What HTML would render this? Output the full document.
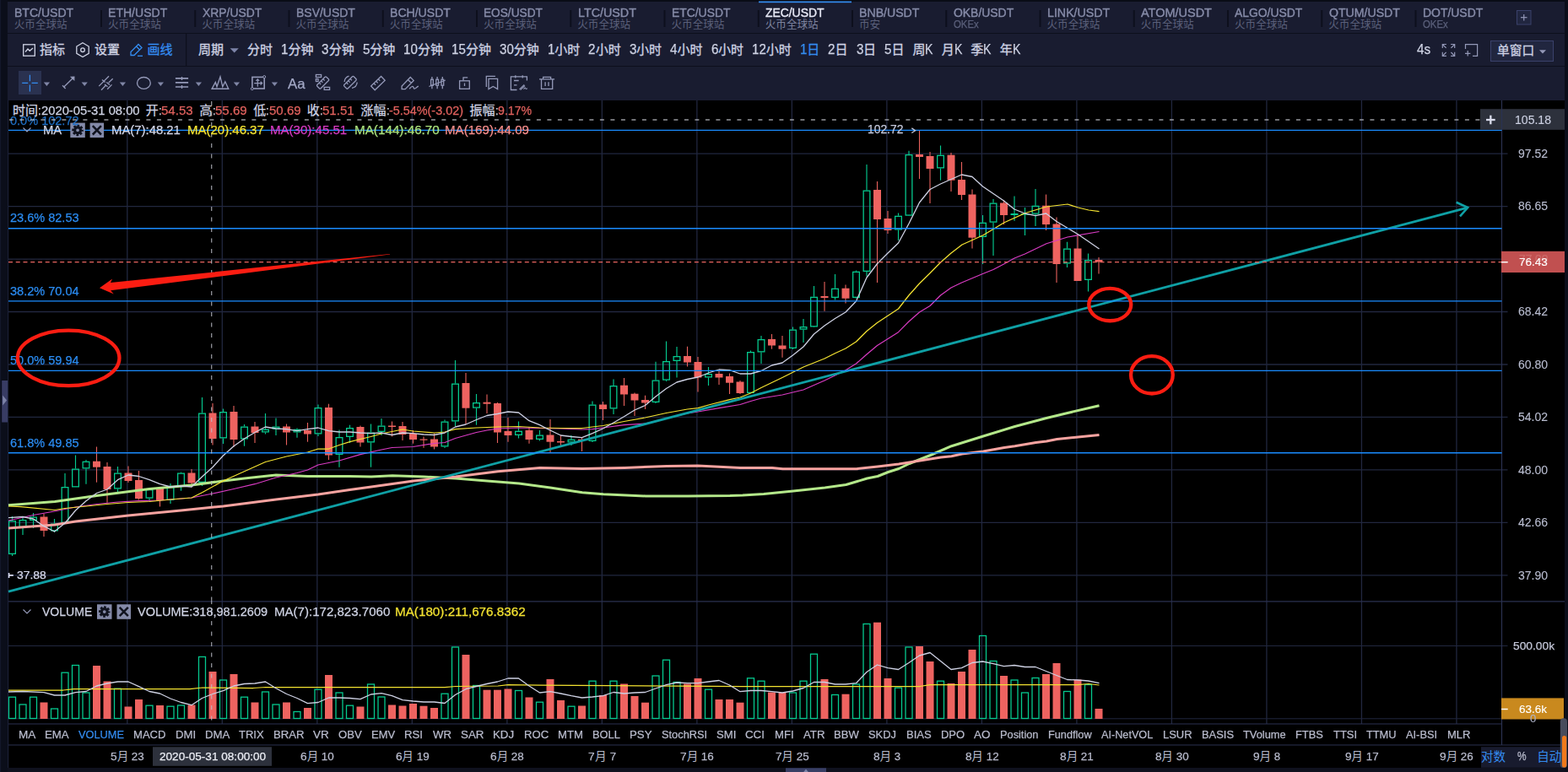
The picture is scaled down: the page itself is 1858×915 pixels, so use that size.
<!DOCTYPE html>
<html lang="zh"><head><meta charset="utf-8"><title>ZEC/USDT</title>
<style>
html,body{margin:0;padding:0;background:#191c30;}
body{width:1858px;height:915px;overflow:hidden;position:relative;font-family:"Liberation Sans",sans-serif;}
#g,#g2{position:absolute;left:0;top:0;}
#g text{font-family:"Liberation Sans","Noto Sans CJK SC",sans-serif;}
#tx{position:absolute;left:0;top:0;width:1858px;height:915px;will-change:transform;}
.t{position:absolute;white-space:pre;line-height:1;transform-origin:0 50%;font-family:"Liberation Sans",sans-serif;}
</style></head><body>
<svg id="g" width="1858" height="915" viewBox="0 0 1858 915" >
<rect x="0.00" y="0.00" width="1858.00" height="915.00" fill="#191c30" />
<rect x="0.00" y="0.00" width="1858.00" height="2.00" fill="#090c16" />
<rect x="0.00" y="0.00" width="9.00" height="915.00" fill="#0b0e1a" />
<rect x="0.00" y="0.00" width="1.10" height="915.00" fill="#13172a" />
<rect x="1854.00" y="0.00" width="4.00" height="915.00" fill="#0b0e1a" />
<rect x="9.00" y="39.00" width="1845.00" height="1.00" fill="#0d0f1c" />
<rect x="9.00" y="78.00" width="1845.00" height="1.00" fill="#0d0f1c" />
<rect x="10.00" y="119.00" width="1844.00" height="791.00" fill="#000" />
<line x1="150.80" y1="119.00" x2="150.80" y2="858.00" stroke="#21273f" stroke-width="1.3" />
<line x1="263.31" y1="119.00" x2="263.31" y2="858.00" stroke="#21273f" stroke-width="1.3" />
<line x1="375.82" y1="119.00" x2="375.82" y2="858.00" stroke="#21273f" stroke-width="1.3" />
<line x1="488.33" y1="119.00" x2="488.33" y2="858.00" stroke="#21273f" stroke-width="1.3" />
<line x1="600.84" y1="119.00" x2="600.84" y2="858.00" stroke="#21273f" stroke-width="1.3" />
<line x1="713.35" y1="119.00" x2="713.35" y2="858.00" stroke="#21273f" stroke-width="1.3" />
<line x1="825.86" y1="119.00" x2="825.86" y2="858.00" stroke="#21273f" stroke-width="1.3" />
<line x1="938.37" y1="119.00" x2="938.37" y2="858.00" stroke="#21273f" stroke-width="1.3" />
<line x1="1050.88" y1="119.00" x2="1050.88" y2="858.00" stroke="#21273f" stroke-width="1.3" />
<line x1="1163.39" y1="119.00" x2="1163.39" y2="858.00" stroke="#21273f" stroke-width="1.3" />
<line x1="1275.90" y1="119.00" x2="1275.90" y2="858.00" stroke="#21273f" stroke-width="1.3" />
<line x1="1388.41" y1="119.00" x2="1388.41" y2="858.00" stroke="#21273f" stroke-width="1.3" />
<line x1="1500.92" y1="119.00" x2="1500.92" y2="858.00" stroke="#21273f" stroke-width="1.3" />
<line x1="1613.43" y1="119.00" x2="1613.43" y2="858.00" stroke="#21273f" stroke-width="1.3" />
<line x1="1725.94" y1="119.00" x2="1725.94" y2="858.00" stroke="#21273f" stroke-width="1.3" />
<line x1="10.00" y1="182.10" x2="1786.50" y2="182.10" stroke="#21273f" stroke-width="1.3" />
<line x1="10.00" y1="244.57" x2="1786.50" y2="244.57" stroke="#21273f" stroke-width="1.3" />
<line x1="10.00" y1="307.04" x2="1786.50" y2="307.04" stroke="#21273f" stroke-width="1.3" />
<line x1="10.00" y1="369.51" x2="1786.50" y2="369.51" stroke="#21273f" stroke-width="1.3" />
<line x1="10.00" y1="431.98" x2="1786.50" y2="431.98" stroke="#21273f" stroke-width="1.3" />
<line x1="10.00" y1="494.45" x2="1786.50" y2="494.45" stroke="#21273f" stroke-width="1.3" />
<line x1="10.00" y1="556.92" x2="1786.50" y2="556.92" stroke="#21273f" stroke-width="1.3" />
<line x1="10.00" y1="619.39" x2="1786.50" y2="619.39" stroke="#21273f" stroke-width="1.3" />
<line x1="10.00" y1="681.86" x2="1786.50" y2="681.86" stroke="#21273f" stroke-width="1.3" />
<line x1="10.00" y1="765.50" x2="1786.50" y2="765.50" stroke="#21273f" stroke-width="1.2" />
<line x1="10.00" y1="851.80" x2="1779.50" y2="851.80" stroke="#21273f" stroke-width="1" />
<line x1="10.00" y1="712.80" x2="1854.00" y2="712.80" stroke="#2a3150" stroke-width="1.2" />
<line x1="10.00" y1="858.00" x2="1779.50" y2="858.00" stroke="#2a3150" stroke-width="1.2" />
<line x1="10.00" y1="883.00" x2="1854.00" y2="883.00" stroke="#2a3150" stroke-width="1.2" />
<line x1="1779.50" y1="119.00" x2="1779.50" y2="883.00" stroke="#2a3150" stroke-width="1.2" />
<line x1="9.70" y1="119.00" x2="9.70" y2="910.00" stroke="#1c2038" stroke-width="1" />
<line x1="14.50" y1="612.00" x2="14.50" y2="617.00" stroke="#05c98e" stroke-width="1.15" />
<line x1="14.50" y1="657.00" x2="14.50" y2="659.00" stroke="#05c98e" stroke-width="1.15" />
<rect x="10.65" y="617.65" width="7.7" height="38.70" fill="none" stroke="#05c98e" stroke-width="1.3"/>
<line x1="27.00" y1="612.50" x2="27.00" y2="616.00" stroke="#05c98e" stroke-width="1.15" />
<line x1="27.00" y1="625.00" x2="27.00" y2="634.00" stroke="#05c98e" stroke-width="1.15" />
<rect x="23.15" y="616.65" width="7.7" height="7.70" fill="none" stroke="#05c98e" stroke-width="1.3"/>
<line x1="39.50" y1="608.00" x2="39.50" y2="612.50" stroke="#05c98e" stroke-width="1.15" />
<line x1="39.50" y1="617.00" x2="39.50" y2="626.00" stroke="#05c98e" stroke-width="1.15" />
<rect x="35.65" y="613.15" width="7.7" height="3.20" fill="none" stroke="#05c98e" stroke-width="1.3"/>
<line x1="52.00" y1="609.00" x2="52.00" y2="636.00" stroke="#e9615d" stroke-width="1.1" />
<rect x="47.50" y="612.50" width="9.00" height="16.50" fill="#ee6360" />
<line x1="64.50" y1="615.00" x2="64.50" y2="620.50" stroke="#05c98e" stroke-width="1.15" />
<line x1="64.50" y1="629.50" x2="64.50" y2="631.00" stroke="#05c98e" stroke-width="1.15" />
<rect x="60.65" y="621.15" width="7.7" height="7.70" fill="none" stroke="#05c98e" stroke-width="1.3"/>
<line x1="77.00" y1="561.00" x2="77.00" y2="577.00" stroke="#05c98e" stroke-width="1.15" />
<rect x="73.15" y="577.65" width="7.7" height="41.70" fill="none" stroke="#05c98e" stroke-width="1.3"/>
<line x1="89.50" y1="539.50" x2="89.50" y2="555.50" stroke="#05c98e" stroke-width="1.15" />
<rect x="85.65" y="556.15" width="7.7" height="20.70" fill="none" stroke="#05c98e" stroke-width="1.3"/>
<line x1="102.00" y1="545.00" x2="102.00" y2="546.70" stroke="#05c98e" stroke-width="1.15" />
<line x1="102.00" y1="555.50" x2="102.00" y2="573.70" stroke="#05c98e" stroke-width="1.15" />
<rect x="98.15" y="547.35" width="7.7" height="7.50" fill="none" stroke="#05c98e" stroke-width="1.3"/>
<line x1="114.50" y1="529.50" x2="114.50" y2="571.70" stroke="#e9615d" stroke-width="1.1" />
<rect x="110.00" y="546.70" width="9.00" height="7.00" fill="#ee6360" />
<line x1="127.00" y1="548.00" x2="127.00" y2="596.00" stroke="#e9615d" stroke-width="1.1" />
<rect x="122.50" y="553.00" width="9.00" height="27.00" fill="#ee6360" />
<line x1="139.50" y1="553.00" x2="139.50" y2="560.50" stroke="#05c98e" stroke-width="1.15" />
<line x1="139.50" y1="579.50" x2="139.50" y2="583.00" stroke="#05c98e" stroke-width="1.15" />
<rect x="135.65" y="561.15" width="7.7" height="17.70" fill="none" stroke="#05c98e" stroke-width="1.3"/>
<line x1="152.00" y1="552.50" x2="152.00" y2="572.00" stroke="#e9615d" stroke-width="1.1" />
<rect x="147.50" y="560.50" width="9.00" height="9.50" fill="#ee6360" />
<line x1="164.50" y1="558.00" x2="164.50" y2="592.50" stroke="#e9615d" stroke-width="1.1" />
<rect x="160.00" y="569.00" width="9.00" height="22.00" fill="#ee6360" />
<line x1="177.00" y1="579.00" x2="177.00" y2="580.00" stroke="#05c98e" stroke-width="1.15" />
<line x1="177.00" y1="590.70" x2="177.00" y2="593.00" stroke="#05c98e" stroke-width="1.15" />
<rect x="173.15" y="580.65" width="7.7" height="9.40" fill="none" stroke="#05c98e" stroke-width="1.3"/>
<line x1="189.50" y1="579.00" x2="189.50" y2="600.50" stroke="#e9615d" stroke-width="1.1" />
<rect x="185.00" y="579.00" width="9.00" height="14.00" fill="#ee6360" />
<line x1="202.00" y1="573.00" x2="202.00" y2="577.00" stroke="#05c98e" stroke-width="1.15" />
<line x1="202.00" y1="593.00" x2="202.00" y2="597.00" stroke="#05c98e" stroke-width="1.15" />
<rect x="198.15" y="577.65" width="7.7" height="14.70" fill="none" stroke="#05c98e" stroke-width="1.3"/>
<line x1="214.50" y1="559.50" x2="214.50" y2="560.50" stroke="#05c98e" stroke-width="1.15" />
<line x1="214.50" y1="577.00" x2="214.50" y2="581.70" stroke="#05c98e" stroke-width="1.15" />
<rect x="210.65" y="561.15" width="7.7" height="15.20" fill="none" stroke="#05c98e" stroke-width="1.3"/>
<line x1="227.00" y1="556.00" x2="227.00" y2="577.50" stroke="#e9615d" stroke-width="1.1" />
<rect x="222.50" y="560.50" width="9.00" height="12.00" fill="#ee6360" />
<line x1="239.50" y1="471.00" x2="239.50" y2="489.50" stroke="#05c98e" stroke-width="1.15" />
<line x1="239.50" y1="572.00" x2="239.50" y2="576.00" stroke="#05c98e" stroke-width="1.15" />
<rect x="235.65" y="490.15" width="7.7" height="81.20" fill="none" stroke="#05c98e" stroke-width="1.3"/>
<line x1="252.00" y1="478.00" x2="252.00" y2="527.50" stroke="#e9615d" stroke-width="1.1" />
<rect x="247.50" y="489.50" width="9.00" height="30.50" fill="#ee6360" />
<line x1="264.50" y1="484.50" x2="264.50" y2="488.00" stroke="#05c98e" stroke-width="1.15" />
<line x1="264.50" y1="519.50" x2="264.50" y2="526.00" stroke="#05c98e" stroke-width="1.15" />
<rect x="260.65" y="488.65" width="7.7" height="30.20" fill="none" stroke="#05c98e" stroke-width="1.3"/>
<line x1="277.00" y1="481.00" x2="277.00" y2="530.00" stroke="#e9615d" stroke-width="1.1" />
<rect x="272.50" y="488.00" width="9.00" height="33.00" fill="#ee6360" />
<line x1="289.50" y1="503.00" x2="289.50" y2="505.50" stroke="#05c98e" stroke-width="1.15" />
<line x1="289.50" y1="520.50" x2="289.50" y2="528.70" stroke="#05c98e" stroke-width="1.15" />
<rect x="285.65" y="506.15" width="7.7" height="13.70" fill="none" stroke="#05c98e" stroke-width="1.3"/>
<line x1="302.00" y1="500.00" x2="302.00" y2="525.00" stroke="#e9615d" stroke-width="1.1" />
<rect x="297.50" y="505.50" width="9.00" height="7.50" fill="#ee6360" />
<line x1="314.50" y1="490.00" x2="314.50" y2="508.70" stroke="#05c98e" stroke-width="1.15" />
<line x1="314.50" y1="512.50" x2="314.50" y2="514.50" stroke="#05c98e" stroke-width="1.15" />
<rect x="310.65" y="509.35" width="7.7" height="2.50" fill="none" stroke="#05c98e" stroke-width="1.3"/>
<line x1="327.00" y1="495.50" x2="327.00" y2="505.50" stroke="#05c98e" stroke-width="1.15" />
<line x1="327.00" y1="508.70" x2="327.00" y2="516.00" stroke="#05c98e" stroke-width="1.15" />
<rect x="323.15" y="506.15" width="7.7" height="1.90" fill="none" stroke="#05c98e" stroke-width="1.3"/>
<line x1="339.50" y1="502.50" x2="339.50" y2="527.50" stroke="#e9615d" stroke-width="1.1" />
<rect x="335.00" y="505.50" width="9.00" height="7.00" fill="#ee6360" />
<line x1="352.00" y1="507.50" x2="352.00" y2="508.70" stroke="#05c98e" stroke-width="1.15" />
<line x1="352.00" y1="512.50" x2="352.00" y2="518.70" stroke="#05c98e" stroke-width="1.15" />
<rect x="348.15" y="509.35" width="7.7" height="2.50" fill="none" stroke="#05c98e" stroke-width="1.3"/>
<line x1="364.50" y1="501.00" x2="364.50" y2="523.70" stroke="#e9615d" stroke-width="1.1" />
<rect x="360.00" y="510.00" width="9.00" height="4.50" fill="#ee6360" />
<line x1="377.00" y1="479.50" x2="377.00" y2="483.00" stroke="#05c98e" stroke-width="1.15" />
<line x1="377.00" y1="514.50" x2="377.00" y2="517.00" stroke="#05c98e" stroke-width="1.15" />
<rect x="373.15" y="483.65" width="7.7" height="30.20" fill="none" stroke="#05c98e" stroke-width="1.3"/>
<line x1="389.50" y1="478.70" x2="389.50" y2="545.00" stroke="#e9615d" stroke-width="1.1" />
<rect x="385.00" y="483.00" width="9.00" height="56.50" fill="#ee6360" />
<line x1="402.00" y1="509.50" x2="402.00" y2="518.00" stroke="#05c98e" stroke-width="1.15" />
<line x1="402.00" y1="539.00" x2="402.00" y2="553.70" stroke="#05c98e" stroke-width="1.15" />
<rect x="398.15" y="518.65" width="7.7" height="19.70" fill="none" stroke="#05c98e" stroke-width="1.3"/>
<line x1="414.50" y1="503.70" x2="414.50" y2="507.00" stroke="#05c98e" stroke-width="1.15" />
<line x1="414.50" y1="518.00" x2="414.50" y2="525.00" stroke="#05c98e" stroke-width="1.15" />
<rect x="410.65" y="507.65" width="7.7" height="9.70" fill="none" stroke="#05c98e" stroke-width="1.3"/>
<line x1="427.00" y1="504.50" x2="427.00" y2="529.50" stroke="#e9615d" stroke-width="1.1" />
<rect x="422.50" y="506.00" width="9.00" height="18.50" fill="#ee6360" />
<line x1="439.50" y1="502.50" x2="439.50" y2="512.50" stroke="#05c98e" stroke-width="1.15" />
<line x1="439.50" y1="524.50" x2="439.50" y2="553.70" stroke="#05c98e" stroke-width="1.15" />
<rect x="435.65" y="513.15" width="7.7" height="10.70" fill="none" stroke="#05c98e" stroke-width="1.3"/>
<line x1="452.00" y1="496.00" x2="452.00" y2="504.50" stroke="#05c98e" stroke-width="1.15" />
<line x1="452.00" y1="512.00" x2="452.00" y2="516.00" stroke="#05c98e" stroke-width="1.15" />
<rect x="448.15" y="505.15" width="7.7" height="6.20" fill="none" stroke="#05c98e" stroke-width="1.3"/>
<line x1="464.50" y1="499.50" x2="464.50" y2="517.50" stroke="#e9615d" stroke-width="1.1" />
<rect x="460.00" y="504.50" width="9.00" height="1.50" fill="#ee6360" />
<line x1="477.00" y1="500.00" x2="477.00" y2="522.00" stroke="#e9615d" stroke-width="1.1" />
<rect x="472.50" y="505.00" width="9.00" height="10.00" fill="#ee6360" />
<line x1="489.50" y1="510.00" x2="489.50" y2="525.70" stroke="#e9615d" stroke-width="1.1" />
<rect x="485.00" y="514.00" width="9.00" height="7.00" fill="#ee6360" />
<line x1="502.00" y1="517.50" x2="502.00" y2="530.70" stroke="#e9615d" stroke-width="1.1" />
<rect x="497.50" y="520.50" width="9.00" height="1.20" fill="#ee6360" />
<line x1="514.50" y1="513.70" x2="514.50" y2="532.50" stroke="#e9615d" stroke-width="1.1" />
<rect x="510.00" y="520.50" width="9.00" height="9.00" fill="#ee6360" />
<line x1="527.00" y1="497.50" x2="527.00" y2="499.50" stroke="#05c98e" stroke-width="1.15" />
<line x1="527.00" y1="529.50" x2="527.00" y2="531.00" stroke="#05c98e" stroke-width="1.15" />
<rect x="523.15" y="500.15" width="7.7" height="28.70" fill="none" stroke="#05c98e" stroke-width="1.3"/>
<line x1="539.50" y1="427.00" x2="539.50" y2="454.50" stroke="#05c98e" stroke-width="1.15" />
<line x1="539.50" y1="499.50" x2="539.50" y2="505.00" stroke="#05c98e" stroke-width="1.15" />
<rect x="535.65" y="455.15" width="7.7" height="43.70" fill="none" stroke="#05c98e" stroke-width="1.3"/>
<line x1="552.00" y1="442.00" x2="552.00" y2="502.50" stroke="#e9615d" stroke-width="1.1" />
<rect x="547.50" y="454.00" width="9.00" height="29.70" fill="#ee6360" />
<line x1="564.50" y1="467.00" x2="564.50" y2="477.00" stroke="#05c98e" stroke-width="1.15" />
<line x1="564.50" y1="483.70" x2="564.50" y2="503.70" stroke="#05c98e" stroke-width="1.15" />
<rect x="560.65" y="477.65" width="7.7" height="5.40" fill="none" stroke="#05c98e" stroke-width="1.3"/>
<line x1="577.00" y1="467.50" x2="577.00" y2="490.00" stroke="#e9615d" stroke-width="1.1" />
<rect x="572.50" y="476.70" width="9.00" height="2.00" fill="#ee6360" />
<line x1="589.50" y1="477.00" x2="589.50" y2="525.00" stroke="#e9615d" stroke-width="1.1" />
<rect x="585.00" y="478.00" width="9.00" height="34.50" fill="#ee6360" />
<line x1="602.00" y1="495.00" x2="602.00" y2="523.70" stroke="#e9615d" stroke-width="1.1" />
<rect x="597.50" y="511.00" width="9.00" height="5.00" fill="#ee6360" />
<line x1="614.50" y1="499.50" x2="614.50" y2="510.70" stroke="#05c98e" stroke-width="1.15" />
<line x1="614.50" y1="516.00" x2="614.50" y2="519.50" stroke="#05c98e" stroke-width="1.15" />
<rect x="610.65" y="511.35" width="7.7" height="4.00" fill="none" stroke="#05c98e" stroke-width="1.3"/>
<line x1="627.00" y1="506.00" x2="627.00" y2="525.70" stroke="#e9615d" stroke-width="1.1" />
<rect x="622.50" y="510.00" width="9.00" height="11.00" fill="#ee6360" />
<line x1="639.50" y1="510.00" x2="639.50" y2="515.50" stroke="#05c98e" stroke-width="1.15" />
<line x1="639.50" y1="521.00" x2="639.50" y2="522.50" stroke="#05c98e" stroke-width="1.15" />
<rect x="635.65" y="516.15" width="7.7" height="4.20" fill="none" stroke="#05c98e" stroke-width="1.3"/>
<line x1="652.00" y1="497.00" x2="652.00" y2="537.00" stroke="#e9615d" stroke-width="1.1" />
<rect x="647.50" y="515.50" width="9.00" height="8.20" fill="#ee6360" />
<line x1="664.50" y1="516.00" x2="664.50" y2="528.00" stroke="#e9615d" stroke-width="1.1" />
<rect x="660.00" y="523.00" width="9.00" height="1.50" fill="#ee6360" />
<line x1="677.00" y1="516.00" x2="677.00" y2="520.70" stroke="#05c98e" stroke-width="1.15" />
<line x1="677.00" y1="524.50" x2="677.00" y2="528.00" stroke="#05c98e" stroke-width="1.15" />
<rect x="673.15" y="521.35" width="7.7" height="2.50" fill="none" stroke="#05c98e" stroke-width="1.3"/>
<line x1="689.50" y1="518.70" x2="689.50" y2="535.00" stroke="#e9615d" stroke-width="1.1" />
<rect x="685.00" y="520.70" width="9.00" height="1.30" fill="#ee6360" />
<line x1="702.00" y1="475.50" x2="702.00" y2="479.50" stroke="#05c98e" stroke-width="1.15" />
<line x1="702.00" y1="523.00" x2="702.00" y2="524.00" stroke="#05c98e" stroke-width="1.15" />
<rect x="698.15" y="480.15" width="7.7" height="42.20" fill="none" stroke="#05c98e" stroke-width="1.3"/>
<line x1="714.50" y1="476.00" x2="714.50" y2="498.00" stroke="#e9615d" stroke-width="1.1" />
<rect x="710.00" y="479.50" width="9.00" height="5.50" fill="#ee6360" />
<line x1="727.00" y1="449.50" x2="727.00" y2="457.00" stroke="#05c98e" stroke-width="1.15" />
<line x1="727.00" y1="484.50" x2="727.00" y2="491.00" stroke="#05c98e" stroke-width="1.15" />
<rect x="723.15" y="457.65" width="7.7" height="26.20" fill="none" stroke="#05c98e" stroke-width="1.3"/>
<line x1="739.50" y1="448.00" x2="739.50" y2="481.00" stroke="#e9615d" stroke-width="1.1" />
<rect x="735.00" y="456.70" width="9.00" height="10.80" fill="#ee6360" />
<line x1="752.00" y1="465.50" x2="752.00" y2="493.00" stroke="#e9615d" stroke-width="1.1" />
<rect x="747.50" y="466.70" width="9.00" height="7.80" fill="#ee6360" />
<line x1="764.50" y1="468.70" x2="764.50" y2="485.00" stroke="#e9615d" stroke-width="1.1" />
<rect x="760.00" y="474.00" width="9.00" height="3.50" fill="#ee6360" />
<line x1="777.00" y1="428.70" x2="777.00" y2="450.50" stroke="#05c98e" stroke-width="1.15" />
<line x1="777.00" y1="477.00" x2="777.00" y2="478.00" stroke="#05c98e" stroke-width="1.15" />
<rect x="773.15" y="451.15" width="7.7" height="25.20" fill="none" stroke="#05c98e" stroke-width="1.3"/>
<line x1="789.50" y1="404.50" x2="789.50" y2="428.00" stroke="#05c98e" stroke-width="1.15" />
<line x1="789.50" y1="450.70" x2="789.50" y2="452.00" stroke="#05c98e" stroke-width="1.15" />
<rect x="785.65" y="428.65" width="7.7" height="21.40" fill="none" stroke="#05c98e" stroke-width="1.3"/>
<line x1="802.00" y1="411.00" x2="802.00" y2="422.00" stroke="#05c98e" stroke-width="1.15" />
<line x1="802.00" y1="428.00" x2="802.00" y2="447.50" stroke="#05c98e" stroke-width="1.15" />
<rect x="798.15" y="422.65" width="7.7" height="4.70" fill="none" stroke="#05c98e" stroke-width="1.3"/>
<line x1="814.50" y1="410.70" x2="814.50" y2="434.50" stroke="#e9615d" stroke-width="1.1" />
<rect x="810.00" y="422.00" width="9.00" height="7.50" fill="#ee6360" />
<line x1="827.00" y1="423.00" x2="827.00" y2="464.50" stroke="#e9615d" stroke-width="1.1" />
<rect x="822.50" y="429.00" width="9.00" height="18.50" fill="#ee6360" />
<line x1="839.50" y1="435.00" x2="839.50" y2="443.00" stroke="#05c98e" stroke-width="1.15" />
<line x1="839.50" y1="447.50" x2="839.50" y2="457.00" stroke="#05c98e" stroke-width="1.15" />
<rect x="835.65" y="443.65" width="7.7" height="3.20" fill="none" stroke="#05c98e" stroke-width="1.3"/>
<line x1="852.00" y1="440.00" x2="852.00" y2="456.00" stroke="#e9615d" stroke-width="1.1" />
<rect x="847.50" y="443.00" width="9.00" height="4.50" fill="#ee6360" />
<line x1="864.50" y1="442.50" x2="864.50" y2="467.00" stroke="#e9615d" stroke-width="1.1" />
<rect x="860.00" y="446.00" width="9.00" height="7.70" fill="#ee6360" />
<line x1="877.00" y1="451.00" x2="877.00" y2="467.00" stroke="#e9615d" stroke-width="1.1" />
<rect x="872.50" y="452.50" width="9.00" height="13.50" fill="#ee6360" />
<line x1="889.50" y1="415.50" x2="889.50" y2="417.00" stroke="#05c98e" stroke-width="1.15" />
<rect x="885.65" y="417.65" width="7.7" height="47.70" fill="none" stroke="#05c98e" stroke-width="1.3"/>
<line x1="902.00" y1="398.00" x2="902.00" y2="402.00" stroke="#05c98e" stroke-width="1.15" />
<line x1="902.00" y1="417.50" x2="902.00" y2="431.00" stroke="#05c98e" stroke-width="1.15" />
<rect x="898.15" y="402.65" width="7.7" height="14.20" fill="none" stroke="#05c98e" stroke-width="1.3"/>
<line x1="914.50" y1="396.00" x2="914.50" y2="413.70" stroke="#e9615d" stroke-width="1.1" />
<rect x="910.00" y="402.00" width="9.00" height="7.50" fill="#ee6360" />
<line x1="927.00" y1="398.00" x2="927.00" y2="423.70" stroke="#e9615d" stroke-width="1.1" />
<rect x="922.50" y="409.50" width="9.00" height="4.20" fill="#ee6360" />
<line x1="939.50" y1="387.50" x2="939.50" y2="390.50" stroke="#05c98e" stroke-width="1.15" />
<line x1="939.50" y1="413.00" x2="939.50" y2="414.00" stroke="#05c98e" stroke-width="1.15" />
<rect x="935.65" y="391.15" width="7.7" height="21.20" fill="none" stroke="#05c98e" stroke-width="1.3"/>
<line x1="952.00" y1="378.00" x2="952.00" y2="387.00" stroke="#05c98e" stroke-width="1.15" />
<line x1="952.00" y1="390.70" x2="952.00" y2="406.00" stroke="#05c98e" stroke-width="1.15" />
<rect x="948.15" y="387.65" width="7.7" height="2.40" fill="none" stroke="#05c98e" stroke-width="1.3"/>
<line x1="964.50" y1="339.00" x2="964.50" y2="351.70" stroke="#05c98e" stroke-width="1.15" />
<line x1="964.50" y1="387.50" x2="964.50" y2="388.00" stroke="#05c98e" stroke-width="1.15" />
<rect x="960.65" y="352.35" width="7.7" height="34.50" fill="none" stroke="#05c98e" stroke-width="1.3"/>
<line x1="977.00" y1="334.00" x2="977.00" y2="368.70" stroke="#e9615d" stroke-width="1.1" />
<rect x="972.50" y="351.00" width="9.00" height="2.00" fill="#ee6360" />
<line x1="989.50" y1="325.00" x2="989.50" y2="341.70" stroke="#05c98e" stroke-width="1.15" />
<line x1="989.50" y1="353.00" x2="989.50" y2="355.50" stroke="#05c98e" stroke-width="1.15" />
<rect x="985.65" y="342.35" width="7.7" height="10.00" fill="none" stroke="#05c98e" stroke-width="1.3"/>
<line x1="1002.00" y1="337.50" x2="1002.00" y2="359.50" stroke="#e9615d" stroke-width="1.1" />
<rect x="997.50" y="341.70" width="9.00" height="12.00" fill="#ee6360" />
<line x1="1014.50" y1="320.50" x2="1014.50" y2="321.70" stroke="#05c98e" stroke-width="1.15" />
<line x1="1014.50" y1="353.00" x2="1014.50" y2="353.70" stroke="#05c98e" stroke-width="1.15" />
<rect x="1010.65" y="322.35" width="7.7" height="30.00" fill="none" stroke="#05c98e" stroke-width="1.3"/>
<line x1="1027.00" y1="195.00" x2="1027.00" y2="225.50" stroke="#05c98e" stroke-width="1.15" />
<line x1="1027.00" y1="322.00" x2="1027.00" y2="327.50" stroke="#05c98e" stroke-width="1.15" />
<rect x="1023.15" y="226.15" width="7.7" height="95.20" fill="none" stroke="#05c98e" stroke-width="1.3"/>
<line x1="1039.50" y1="215.00" x2="1039.50" y2="335.00" stroke="#e9615d" stroke-width="1.1" />
<rect x="1035.00" y="225.00" width="9.00" height="35.00" fill="#ee6360" />
<line x1="1052.00" y1="250.00" x2="1052.00" y2="277.00" stroke="#e9615d" stroke-width="1.1" />
<rect x="1047.50" y="259.00" width="9.00" height="14.00" fill="#ee6360" />
<line x1="1064.50" y1="252.50" x2="1064.50" y2="255.70" stroke="#05c98e" stroke-width="1.15" />
<line x1="1064.50" y1="272.50" x2="1064.50" y2="285.00" stroke="#05c98e" stroke-width="1.15" />
<rect x="1060.65" y="256.35" width="7.7" height="15.50" fill="none" stroke="#05c98e" stroke-width="1.3"/>
<line x1="1077.00" y1="178.70" x2="1077.00" y2="183.00" stroke="#05c98e" stroke-width="1.15" />
<line x1="1077.00" y1="255.70" x2="1077.00" y2="256.00" stroke="#05c98e" stroke-width="1.15" />
<rect x="1073.15" y="183.65" width="7.7" height="71.40" fill="none" stroke="#05c98e" stroke-width="1.3"/>
<line x1="1089.50" y1="154.50" x2="1089.50" y2="212.00" stroke="#e9615d" stroke-width="1.1" />
<rect x="1085.00" y="183.00" width="9.00" height="3.00" fill="#ee6360" />
<line x1="1102.00" y1="180.00" x2="1102.00" y2="241.00" stroke="#e9615d" stroke-width="1.1" />
<rect x="1097.50" y="185.00" width="9.00" height="15.00" fill="#ee6360" />
<line x1="1114.50" y1="172.50" x2="1114.50" y2="183.70" stroke="#05c98e" stroke-width="1.15" />
<line x1="1114.50" y1="199.50" x2="1114.50" y2="213.70" stroke="#05c98e" stroke-width="1.15" />
<rect x="1110.65" y="184.35" width="7.7" height="14.50" fill="none" stroke="#05c98e" stroke-width="1.3"/>
<line x1="1127.00" y1="181.00" x2="1127.00" y2="227.00" stroke="#e9615d" stroke-width="1.1" />
<rect x="1122.50" y="183.70" width="9.00" height="30.00" fill="#ee6360" />
<line x1="1139.50" y1="192.00" x2="1139.50" y2="237.00" stroke="#e9615d" stroke-width="1.1" />
<rect x="1135.00" y="213.00" width="9.00" height="18.00" fill="#ee6360" />
<line x1="1152.00" y1="224.50" x2="1152.00" y2="294.50" stroke="#e9615d" stroke-width="1.1" />
<rect x="1147.50" y="230.50" width="9.00" height="51.20" fill="#ee6360" />
<line x1="1164.50" y1="255.00" x2="1164.50" y2="263.70" stroke="#05c98e" stroke-width="1.15" />
<line x1="1164.50" y1="281.00" x2="1164.50" y2="313.00" stroke="#05c98e" stroke-width="1.15" />
<rect x="1160.65" y="264.35" width="7.7" height="16.00" fill="none" stroke="#05c98e" stroke-width="1.3"/>
<line x1="1177.00" y1="236.00" x2="1177.00" y2="240.50" stroke="#05c98e" stroke-width="1.15" />
<line x1="1177.00" y1="263.70" x2="1177.00" y2="303.00" stroke="#05c98e" stroke-width="1.15" />
<rect x="1173.15" y="241.15" width="7.7" height="21.90" fill="none" stroke="#05c98e" stroke-width="1.3"/>
<line x1="1189.50" y1="237.00" x2="1189.50" y2="266.00" stroke="#e9615d" stroke-width="1.1" />
<rect x="1185.00" y="240.50" width="9.00" height="14.50" fill="#ee6360" />
<line x1="1202.00" y1="232.50" x2="1202.00" y2="253.00" stroke="#05c98e" stroke-width="1.15" />
<line x1="1202.00" y1="255.00" x2="1202.00" y2="261.70" stroke="#05c98e" stroke-width="1.15" />
<rect x="1198.15" y="253.65" width="7.7" height="0.70" fill="none" stroke="#05c98e" stroke-width="1.3"/>
<line x1="1214.50" y1="246.00" x2="1214.50" y2="253.00" stroke="#05c98e" stroke-width="1.15" />
<line x1="1214.50" y1="254.00" x2="1214.50" y2="279.00" stroke="#05c98e" stroke-width="1.15" />
<rect x="1210.65" y="253.65" width="7.7" height="0.30" fill="none" stroke="#05c98e" stroke-width="1.3"/>
<line x1="1227.00" y1="224.00" x2="1227.00" y2="243.70" stroke="#05c98e" stroke-width="1.15" />
<line x1="1227.00" y1="253.70" x2="1227.00" y2="268.00" stroke="#05c98e" stroke-width="1.15" />
<rect x="1223.15" y="244.35" width="7.7" height="8.70" fill="none" stroke="#05c98e" stroke-width="1.3"/>
<line x1="1239.50" y1="230.50" x2="1239.50" y2="273.00" stroke="#e9615d" stroke-width="1.1" />
<rect x="1235.00" y="243.70" width="9.00" height="22.30" fill="#ee6360" />
<line x1="1252.00" y1="257.50" x2="1252.00" y2="335.00" stroke="#e9615d" stroke-width="1.1" />
<rect x="1247.50" y="265.50" width="9.00" height="47.50" fill="#ee6360" />
<line x1="1264.50" y1="286.70" x2="1264.50" y2="294.50" stroke="#05c98e" stroke-width="1.15" />
<line x1="1264.50" y1="312.50" x2="1264.50" y2="317.00" stroke="#05c98e" stroke-width="1.15" />
<rect x="1260.65" y="295.15" width="7.7" height="16.70" fill="none" stroke="#05c98e" stroke-width="1.3"/>
<line x1="1277.00" y1="277.50" x2="1277.00" y2="333.00" stroke="#e9615d" stroke-width="1.1" />
<rect x="1272.50" y="294.50" width="9.00" height="38.50" fill="#ee6360" />
<line x1="1289.50" y1="300.50" x2="1289.50" y2="308.00" stroke="#05c98e" stroke-width="1.15" />
<line x1="1289.50" y1="332.00" x2="1289.50" y2="345.50" stroke="#05c98e" stroke-width="1.15" />
<rect x="1285.65" y="308.65" width="7.7" height="22.70" fill="none" stroke="#05c98e" stroke-width="1.3"/>
<line x1="1302.00" y1="305.00" x2="1302.00" y2="324.50" stroke="#e9615d" stroke-width="1.1" />
<rect x="1297.50" y="308.00" width="9.00" height="2.50" fill="#ee6360" />
<path d="M10.0 598.7 L65.0 594.5 L114.5 587.5 L177.0 579.5 L227.0 575.0 L264.5 570.0 L289.5 567.0 L327.0 563.0 L364.5 564.5 L414.5 564.5 L440.0 565.0 L465.0 563.7 L502.0 565.0 L540.0 567.0 L577.0 570.0 L615.0 573.0 L652.0 578.0 L690.0 583.7 L715.0 585.7 L765.0 588.0 L815.0 588.0 L865.0 587.5 L880.0 587.0 L905.0 585.5 L940.0 582.0 L977.5 578.0 L1002.5 574.5 L1027.5 567.0 L1040.0 564.5 L1052.5 559.5 L1065.0 555.5 L1077.5 549.5 L1102.5 539.5 L1127.5 528.7 L1165.0 517.0 L1202.5 505.5 L1240.0 495.5 L1265.0 489.5 L1302.5 480.7" fill="none" stroke="#b4e88a" stroke-width="3" stroke-linejoin="round" />
<path d="M10.0 626.0 L65.0 622.0 L89.5 618.0 L152.0 611.0 L214.5 605.0 L264.5 600.0 L327.0 592.0 L377.0 586.0 L414.5 580.5 L440.0 577.0 L490.0 570.0 L540.0 565.0 L590.0 558.7 L640.0 554.5 L690.0 555.5 L740.0 554.5 L790.0 552.5 L827.0 552.0 L877.0 554.5 L915.0 554.5 L927.5 555.7 L1015.0 555.7 L1040.0 553.0 L1065.0 550.0 L1090.0 546.0 L1115.0 542.0 L1127.5 540.7 L1140.0 538.0 L1165.0 535.0 L1190.0 530.5 L1202.5 528.7 L1227.5 524.5 L1240.0 523.0 L1252.5 520.5 L1277.5 518.0 L1302.5 515.5" fill="none" stroke="#f8a3a0" stroke-width="3" stroke-linejoin="round" />
<path d="M10.0 617.0 L39.5 610.5 L64.5 606.0 L89.5 601.0 L114.5 597.5 L139.5 595.0 L164.5 593.7 L189.5 593.0 L214.5 591.0 L227.0 590.0 L252.0 585.0 L277.0 579.5 L302.0 573.7 L327.0 566.0 L352.0 560.5 L364.5 557.0 L377.0 551.0 L402.0 546.0 L427.0 538.7 L452.0 533.0 L464.5 530.5 L489.5 529.5 L514.5 525.5 L527.0 524.5 L539.5 519.5 L564.5 512.5 L577.0 510.0 L589.5 508.0 L614.5 507.0 L639.5 507.5 L664.5 508.0 L689.5 509.0 L702.0 508.7 L714.5 507.0 L739.5 503.7 L764.5 502.0 L789.5 496.0 L814.5 490.0 L827.0 488.0 L852.0 483.7 L877.0 479.5 L889.5 475.5 L902.0 472.0 L927.0 468.0 L952.0 462.0 L977.0 451.0 L989.5 445.0 L1002.0 438.7 L1014.5 431.0 L1027.0 420.0 L1039.5 409.5 L1064.5 393.7 L1077.0 381.0 L1089.5 370.0 L1102.0 362.5 L1114.5 350.0 L1127.0 341.0 L1139.5 335.0 L1164.5 324.5 L1177.0 319.5 L1189.5 313.0 L1202.0 306.0 L1214.5 301.0 L1240.0 288.7 L1265.0 281.0 L1302.5 274.5" fill="none" stroke="#d93bc3" stroke-width="1.2" stroke-linejoin="round" />
<path d="M10.0 600.0 L25.0 600.7 L64.5 604.5 L77.0 602.5 L102.0 600.0 L127.0 597.5 L152.0 595.5 L177.0 594.5 L202.0 592.0 L227.0 590.0 L239.5 583.7 L264.5 570.0 L289.5 558.7 L314.5 547.5 L339.5 541.0 L364.5 536.0 L377.0 532.0 L389.5 532.0 L402.0 527.5 L414.5 523.7 L427.0 520.5 L439.5 517.5 L452.0 514.0 L464.5 511.5 L477.0 509.0 L489.5 511.0 L514.5 513.0 L527.0 512.0 L539.5 508.7 L564.5 507.0 L589.5 506.0 L614.5 505.5 L639.5 507.0 L664.5 507.5 L689.5 507.5 L702.0 506.0 L714.5 504.5 L727.0 502.0 L739.5 499.5 L764.5 495.0 L789.5 489.5 L814.5 485.0 L827.0 483.7 L839.5 480.0 L864.5 473.7 L877.0 471.0 L889.5 466.0 L902.0 459.5 L927.0 447.5 L952.0 435.0 L977.0 425.0 L989.5 418.7 L1002.0 413.0 L1014.5 405.0 L1027.0 392.5 L1039.5 382.5 L1064.5 366.0 L1077.0 350.0 L1089.5 336.0 L1102.0 323.7 L1114.5 311.0 L1127.0 300.0 L1140.0 290.0 L1165.0 278.7 L1190.0 263.7 L1215.0 252.5 L1240.0 245.0 L1265.0 242.0 L1277.5 246.0 L1290.0 249.0 L1302.5 250.7" fill="none" stroke="#f3e231" stroke-width="1.25" stroke-linejoin="round" />
<path d="M10.0 613.7 L27.0 612.5 L39.5 615.0 L52.0 623.7 L64.5 630.0 L77.0 620.0 L89.5 605.0 L102.0 593.7 L114.5 584.5 L127.0 580.0 L139.5 568.7 L152.0 563.0 L164.5 564.5 L177.0 568.7 L189.5 573.7 L202.0 577.0 L214.5 576.0 L227.0 577.0 L239.5 565.0 L252.0 553.7 L264.5 540.0 L277.0 528.7 L289.5 520.0 L302.0 512.5 L314.5 506.0 L327.0 508.0 L339.5 508.7 L352.0 510.7 L364.5 508.7 L377.0 507.0 L389.5 510.7 L402.0 512.0 L414.5 512.0 L427.0 513.0 L439.5 513.7 L452.0 513.0 L464.5 515.5 L477.0 513.0 L489.5 513.7 L502.0 515.0 L514.5 515.5 L527.0 513.0 L539.5 506.0 L552.0 503.0 L564.5 497.5 L577.0 492.5 L589.5 490.5 L602.0 488.0 L614.5 489.0 L627.0 498.7 L639.5 503.7 L652.0 510.0 L664.5 516.0 L677.0 517.5 L689.5 518.7 L702.0 513.7 L714.5 508.0 L727.0 501.0 L739.5 493.7 L752.0 486.0 L764.5 480.5 L777.0 470.0 L789.5 460.5 L802.0 453.0 L814.5 449.5 L827.0 447.0 L839.5 442.0 L852.0 438.0 L864.5 438.7 L877.0 443.0 L889.5 443.0 L902.0 439.5 L914.5 433.0 L927.0 430.0 L939.5 421.0 L952.0 411.0 L964.5 396.0 L977.0 386.0 L989.5 377.5 L1002.0 370.0 L1014.5 357.0 L1027.0 329.0 L1039.5 312.5 L1052.0 300.0 L1064.5 288.0 L1077.0 265.0 L1089.5 240.0 L1102.0 224.5 L1114.5 218.0 L1127.0 212.5 L1139.5 207.0 L1152.0 209.5 L1164.5 221.0 L1177.0 229.5 L1189.5 238.0 L1202.0 248.0 L1214.5 253.0 L1227.0 255.7 L1239.5 253.0 L1252.0 262.5 L1264.5 270.0 L1277.0 277.5 L1289.5 286.0 L1302.5 295.0" fill="none" stroke="#cdd0e2" stroke-width="1.3" stroke-linejoin="round" />
<rect x="10.50" y="826.20" width="8" height="25.30" fill="none" stroke="#05c98e" stroke-width="1.3"/>
<rect x="23.00" y="835.00" width="8" height="16.50" fill="none" stroke="#05c98e" stroke-width="1.3"/>
<rect x="35.50" y="826.20" width="8" height="25.30" fill="none" stroke="#05c98e" stroke-width="1.3"/>
<rect x="47.50" y="832.50" width="9.00" height="19.50" fill="#ee6360" />
<rect x="60.50" y="840.00" width="8" height="11.50" fill="none" stroke="#05c98e" stroke-width="1.3"/>
<rect x="73.00" y="797.20" width="8" height="54.30" fill="none" stroke="#05c98e" stroke-width="1.3"/>
<rect x="85.50" y="788.50" width="8" height="63.00" fill="none" stroke="#05c98e" stroke-width="1.3"/>
<rect x="98.00" y="821.00" width="8" height="30.50" fill="none" stroke="#05c98e" stroke-width="1.3"/>
<rect x="110.00" y="789.00" width="9.00" height="63.00" fill="#ee6360" />
<rect x="122.50" y="807.50" width="9.00" height="44.50" fill="#ee6360" />
<rect x="135.50" y="816.20" width="8" height="35.30" fill="none" stroke="#05c98e" stroke-width="1.3"/>
<rect x="147.50" y="837.50" width="9.00" height="14.50" fill="#ee6360" />
<rect x="160.00" y="829.00" width="9.00" height="23.00" fill="#ee6360" />
<rect x="173.00" y="836.20" width="8" height="15.30" fill="none" stroke="#05c98e" stroke-width="1.3"/>
<rect x="185.00" y="836.00" width="9.00" height="16.00" fill="#ee6360" />
<rect x="198.00" y="837.20" width="8" height="14.30" fill="none" stroke="#05c98e" stroke-width="1.3"/>
<rect x="210.50" y="836.00" width="8" height="15.50" fill="none" stroke="#05c98e" stroke-width="1.3"/>
<rect x="222.50" y="835.50" width="9.00" height="16.50" fill="#ee6360" />
<rect x="235.50" y="778.50" width="8" height="73.00" fill="none" stroke="#05c98e" stroke-width="1.3"/>
<rect x="247.50" y="796.00" width="9.00" height="56.00" fill="#ee6360" />
<rect x="260.50" y="806.00" width="8" height="45.50" fill="none" stroke="#05c98e" stroke-width="1.3"/>
<rect x="272.50" y="799.00" width="9.00" height="53.00" fill="#ee6360" />
<rect x="285.50" y="826.20" width="8" height="25.30" fill="none" stroke="#05c98e" stroke-width="1.3"/>
<rect x="297.50" y="832.50" width="9.00" height="19.50" fill="#ee6360" />
<rect x="310.50" y="820.00" width="8" height="31.50" fill="none" stroke="#05c98e" stroke-width="1.3"/>
<rect x="323.00" y="835.00" width="8" height="16.50" fill="none" stroke="#05c98e" stroke-width="1.3"/>
<rect x="335.00" y="832.50" width="9.00" height="19.50" fill="#ee6360" />
<rect x="348.00" y="843.50" width="8" height="8.00" fill="none" stroke="#05c98e" stroke-width="1.3"/>
<rect x="360.00" y="839.00" width="9.00" height="13.00" fill="#ee6360" />
<rect x="373.00" y="817.20" width="8" height="34.30" fill="none" stroke="#05c98e" stroke-width="1.3"/>
<rect x="385.00" y="800.00" width="9.00" height="52.00" fill="#ee6360" />
<rect x="398.00" y="821.00" width="8" height="30.50" fill="none" stroke="#05c98e" stroke-width="1.3"/>
<rect x="410.50" y="836.20" width="8" height="15.30" fill="none" stroke="#05c98e" stroke-width="1.3"/>
<rect x="422.50" y="837.50" width="9.00" height="14.50" fill="#ee6360" />
<rect x="435.50" y="811.00" width="8" height="40.50" fill="none" stroke="#05c98e" stroke-width="1.3"/>
<rect x="448.00" y="826.00" width="8" height="25.50" fill="none" stroke="#05c98e" stroke-width="1.3"/>
<rect x="460.00" y="835.50" width="9.00" height="16.50" fill="#ee6360" />
<rect x="472.50" y="836.50" width="9.00" height="15.50" fill="#ee6360" />
<rect x="485.00" y="834.00" width="9.00" height="18.00" fill="#ee6360" />
<rect x="497.50" y="836.70" width="9.00" height="15.30" fill="#ee6360" />
<rect x="510.00" y="839.00" width="9.00" height="13.00" fill="#ee6360" />
<rect x="523.00" y="822.20" width="8" height="29.30" fill="none" stroke="#05c98e" stroke-width="1.3"/>
<rect x="535.50" y="767.00" width="8" height="84.50" fill="none" stroke="#05c98e" stroke-width="1.3"/>
<rect x="547.50" y="776.00" width="9.00" height="76.00" fill="#ee6360" />
<rect x="560.50" y="812.50" width="8" height="39.00" fill="none" stroke="#05c98e" stroke-width="1.3"/>
<rect x="572.50" y="817.70" width="9.00" height="34.30" fill="#ee6360" />
<rect x="585.00" y="817.70" width="9.00" height="34.30" fill="#ee6360" />
<rect x="597.50" y="816.50" width="9.00" height="35.50" fill="#ee6360" />
<rect x="610.50" y="818.50" width="8" height="33.00" fill="none" stroke="#05c98e" stroke-width="1.3"/>
<rect x="622.50" y="826.50" width="9.00" height="25.50" fill="#ee6360" />
<rect x="635.50" y="832.20" width="8" height="19.30" fill="none" stroke="#05c98e" stroke-width="1.3"/>
<rect x="647.50" y="805.00" width="9.00" height="47.00" fill="#ee6360" />
<rect x="660.00" y="830.00" width="9.00" height="22.00" fill="#ee6360" />
<rect x="673.00" y="837.20" width="8" height="14.30" fill="none" stroke="#05c98e" stroke-width="1.3"/>
<rect x="685.00" y="836.50" width="9.00" height="15.50" fill="#ee6360" />
<rect x="698.00" y="807.20" width="8" height="44.30" fill="none" stroke="#05c98e" stroke-width="1.3"/>
<rect x="710.00" y="824.00" width="9.00" height="28.00" fill="#ee6360" />
<rect x="723.00" y="807.20" width="8" height="44.30" fill="none" stroke="#05c98e" stroke-width="1.3"/>
<rect x="735.00" y="810.50" width="9.00" height="41.50" fill="#ee6360" />
<rect x="747.50" y="825.00" width="9.00" height="27.00" fill="#ee6360" />
<rect x="760.00" y="832.70" width="9.00" height="19.30" fill="#ee6360" />
<rect x="773.00" y="801.00" width="8" height="50.50" fill="none" stroke="#05c98e" stroke-width="1.3"/>
<rect x="785.50" y="782.20" width="8" height="69.30" fill="none" stroke="#05c98e" stroke-width="1.3"/>
<rect x="798.00" y="808.50" width="8" height="43.00" fill="none" stroke="#05c98e" stroke-width="1.3"/>
<rect x="810.00" y="810.50" width="9.00" height="41.50" fill="#ee6360" />
<rect x="822.50" y="804.00" width="9.00" height="48.00" fill="#ee6360" />
<rect x="835.50" y="817.20" width="8" height="34.30" fill="none" stroke="#05c98e" stroke-width="1.3"/>
<rect x="847.50" y="829.00" width="9.00" height="23.00" fill="#ee6360" />
<rect x="860.00" y="829.00" width="9.00" height="23.00" fill="#ee6360" />
<rect x="872.50" y="832.70" width="9.00" height="19.30" fill="#ee6360" />
<rect x="885.50" y="803.80" width="8" height="47.70" fill="none" stroke="#05c98e" stroke-width="1.3"/>
<rect x="898.00" y="807.20" width="8" height="44.30" fill="none" stroke="#05c98e" stroke-width="1.3"/>
<rect x="910.00" y="820.50" width="9.00" height="31.50" fill="#ee6360" />
<rect x="922.50" y="821.00" width="9.00" height="31.00" fill="#ee6360" />
<rect x="935.50" y="821.00" width="8" height="30.50" fill="none" stroke="#05c98e" stroke-width="1.3"/>
<rect x="948.00" y="807.20" width="8" height="44.30" fill="none" stroke="#05c98e" stroke-width="1.3"/>
<rect x="960.50" y="775.20" width="8" height="76.30" fill="none" stroke="#05c98e" stroke-width="1.3"/>
<rect x="972.50" y="805.00" width="9.00" height="47.00" fill="#ee6360" />
<rect x="985.50" y="823.50" width="8" height="28.00" fill="none" stroke="#05c98e" stroke-width="1.3"/>
<rect x="997.50" y="822.70" width="9.00" height="29.30" fill="#ee6360" />
<rect x="1010.50" y="811.00" width="8" height="40.50" fill="none" stroke="#05c98e" stroke-width="1.3"/>
<rect x="1023.00" y="739.50" width="8" height="112.00" fill="none" stroke="#05c98e" stroke-width="1.3"/>
<rect x="1035.00" y="737.70" width="9.00" height="114.30" fill="#ee6360" />
<rect x="1047.50" y="804.00" width="9.00" height="48.00" fill="#ee6360" />
<rect x="1060.50" y="815.20" width="8" height="36.30" fill="none" stroke="#05c98e" stroke-width="1.3"/>
<rect x="1073.00" y="767.00" width="8" height="84.50" fill="none" stroke="#05c98e" stroke-width="1.3"/>
<rect x="1085.00" y="766.00" width="9.00" height="86.00" fill="#ee6360" />
<rect x="1097.50" y="784.00" width="9.00" height="68.00" fill="#ee6360" />
<rect x="1110.50" y="807.20" width="8" height="44.30" fill="none" stroke="#05c98e" stroke-width="1.3"/>
<rect x="1122.50" y="810.00" width="9.00" height="42.00" fill="#ee6360" />
<rect x="1135.00" y="796.00" width="9.00" height="56.00" fill="#ee6360" />
<rect x="1147.50" y="770.00" width="9.00" height="82.00" fill="#ee6360" />
<rect x="1160.50" y="753.50" width="8" height="98.00" fill="none" stroke="#05c98e" stroke-width="1.3"/>
<rect x="1173.00" y="783.50" width="8" height="68.00" fill="none" stroke="#05c98e" stroke-width="1.3"/>
<rect x="1185.00" y="801.00" width="9.00" height="51.00" fill="#ee6360" />
<rect x="1198.00" y="806.00" width="8" height="45.50" fill="none" stroke="#05c98e" stroke-width="1.3"/>
<rect x="1210.50" y="821.00" width="8" height="30.50" fill="none" stroke="#05c98e" stroke-width="1.3"/>
<rect x="1223.00" y="803.50" width="8" height="48.00" fill="none" stroke="#05c98e" stroke-width="1.3"/>
<rect x="1235.00" y="799.00" width="9.00" height="53.00" fill="#ee6360" />
<rect x="1247.50" y="786.00" width="9.00" height="66.00" fill="#ee6360" />
<rect x="1260.50" y="819.50" width="8" height="32.00" fill="none" stroke="#05c98e" stroke-width="1.3"/>
<rect x="1272.50" y="805.50" width="9.00" height="46.50" fill="#ee6360" />
<rect x="1285.50" y="811.50" width="8" height="40.00" fill="none" stroke="#05c98e" stroke-width="1.3"/>
<rect x="1297.50" y="840.00" width="9.00" height="12.00" fill="#ee6360" />
<path d="M10.0 818.0 L75.0 818.0 L87.5 816.7 L225.0 816.7 L240.0 815.0 L300.0 815.5 L315.0 814.5 L440.0 814.7 L527.0 814.7 L540.0 813.5 L590.0 813.0 L602.0 811.7 L640.0 812.0 L880.0 813.5 L1090.0 813.5 L1102.0 811.7 L1277.0 811.7 L1290.0 810.5 L1302.5 812.0" fill="none" stroke="#f3e231" stroke-width="1.25" stroke-linejoin="round" />
<path d="M10.0 820.0 L27.0 819.5 L52.0 820.7 L64.5 824.0 L77.0 824.0 L89.5 820.7 L102.0 819.5 L114.5 813.0 L127.0 810.0 L139.5 808.0 L152.0 808.0 L164.5 813.7 L177.0 819.5 L189.5 822.0 L202.0 828.0 L214.5 832.5 L227.0 835.7 L239.5 827.5 L252.0 822.5 L264.5 818.7 L277.0 813.0 L289.5 810.5 L302.0 810.0 L314.5 808.0 L327.0 815.7 L339.5 822.5 L352.0 827.5 L364.5 833.7 L377.0 832.5 L389.5 827.0 L402.0 827.0 L414.5 827.5 L427.0 828.7 L439.5 823.0 L452.0 821.7 L464.5 824.7 L477.0 829.7 L489.5 831.0 L502.0 832.0 L514.5 832.0 L527.0 833.5 L539.5 823.5 L552.0 816.7 L564.5 813.5 L577.0 810.5 L589.5 808.0 L602.0 804.0 L614.5 804.0 L627.0 813.0 L639.5 821.0 L652.0 819.7 L664.5 822.0 L677.0 824.7 L689.5 827.0 L702.0 826.0 L714.5 824.7 L727.0 820.5 L739.5 822.0 L752.0 821.0 L764.5 820.5 L777.0 816.0 L789.5 811.7 L802.0 809.0 L814.5 809.7 L827.0 809.7 L839.5 808.0 L852.0 806.5 L864.5 812.0 L877.0 819.7 L889.5 818.5 L902.0 818.5 L914.5 819.7 L927.0 821.0 L939.5 819.0 L952.0 815.5 L964.5 808.5 L977.0 808.5 L989.5 811.0 L1002.0 811.0 L1014.5 809.7 L1027.0 796.5 L1039.5 788.0 L1052.0 791.7 L1064.5 793.5 L1077.0 785.5 L1089.5 777.0 L1102.0 773.5 L1114.5 783.5 L1127.0 793.5 L1139.5 791.7 L1152.0 785.5 L1164.5 784.0 L1177.0 786.7 L1189.5 789.7 L1202.0 788.5 L1214.5 790.5 L1227.0 790.5 L1239.5 795.5 L1252.0 800.5 L1264.5 805.5 L1277.0 806.0 L1289.5 807.0 L1302.5 809.7" fill="none" stroke="#cdd0e2" stroke-width="1.3" stroke-linejoin="round" />
<line x1="10.00" y1="701.20" x2="1738.80" y2="246.20" stroke="#0fa0a5" stroke-width="2.8" />
<path d="M1725.6 239.7 L1739.2 246 L1730 256.4" fill="none" stroke="#0fa0a5" stroke-width="2.6" stroke-linejoin="miter"/>
<line x1="10.00" y1="154.40" x2="1779.50" y2="154.40" stroke="#1a8cff" stroke-width="1.4" />
<line x1="10.00" y1="270.80" x2="1779.50" y2="270.80" stroke="#1a8cff" stroke-width="1.4" />
<line x1="10.00" y1="356.90" x2="1779.50" y2="356.90" stroke="#1a8cff" stroke-width="1.4" />
<line x1="10.00" y1="439.40" x2="1779.50" y2="439.40" stroke="#1a8cff" stroke-width="1.4" />
<line x1="10.00" y1="536.80" x2="1779.50" y2="536.80" stroke="#1a8cff" stroke-width="1.4" />
<line x1="10.00" y1="310.60" x2="1779.50" y2="310.60" stroke="#e8645f" stroke-width="1.2" stroke-dasharray="5 3.74"/>
<line x1="250.75" y1="120.00" x2="250.75" y2="711.00" stroke="#bcbec8" stroke-width="1" stroke-dasharray="5 7.5"/>
<line x1="250.75" y1="711.10" x2="250.75" y2="861.00" stroke="#bcbec8" stroke-width="1" stroke-dasharray="5 7.5"/>
<rect x="1754.00" y="129.20" width="100.00" height="24.60" fill="#2d313c" />
<line x1="1779.50" y1="129.20" x2="1779.50" y2="153.80" stroke="#2a3252" stroke-width="1.2" />
<line x1="1761.00" y1="142.00" x2="1771.70" y2="142.00" stroke="#d9dcec" stroke-width="2.3" />
<line x1="1766.35" y1="136.70" x2="1766.35" y2="147.30" stroke="#d9dcec" stroke-width="2.3" />
<rect x="1779.00" y="297.80" width="75.00" height="25.20" fill="#c15050" />
<line x1="1779.00" y1="310.70" x2="1786.70" y2="310.70" stroke="#fff" stroke-width="1.5" />
<rect x="1779.00" y="827.40" width="74.00" height="25.10" fill="#c9891e" />
<line x1="1779.00" y1="840.50" x2="1786.70" y2="840.50" stroke="#fff" stroke-width="1.5" />
<rect x="1755.00" y="885.20" width="99.00" height="24.60" fill="#181b2e" />
<rect x="1848.80" y="851.20" width="8.20" height="59.00" fill="#484c5c" rx="4"/>
<rect x="1851.00" y="872.00" width="5.20" height="37.50" fill="#f07a1c" rx="2.6"/>
<rect x="2.20" y="451.00" width="6.80" height="49.50" fill="#383c64" />
<path d="M3.2 468.5 L8 474.5 L3.2 480.5Z" fill="#7d83a8"/>
<rect x="9.00" y="910.00" width="1845.00" height="5.00" fill="#0f111e" />
<rect x="931.00" y="910.30" width="48.00" height="4.70" fill="#383e64" />
<path d="M952.2 915 L955 911.6 L957.8 915Z" fill="#7d84a8"/>
<rect x="181.00" y="885.30" width="141.00" height="22.50" fill="#2d313c" />
<rect x="119.00" y="12.00" width="2.00" height="20.00" fill="#0d0f1c" />
<rect x="230.25" y="12.00" width="2.00" height="20.00" fill="#0d0f1c" />
<rect x="341.50" y="12.00" width="2.00" height="20.00" fill="#0d0f1c" />
<rect x="452.75" y="12.00" width="2.00" height="20.00" fill="#0d0f1c" />
<rect x="564.00" y="12.00" width="2.00" height="20.00" fill="#0d0f1c" />
<rect x="675.25" y="12.00" width="2.00" height="20.00" fill="#0d0f1c" />
<rect x="786.50" y="12.00" width="2.00" height="20.00" fill="#0d0f1c" />
<rect x="897.75" y="12.00" width="2.00" height="20.00" fill="#0d0f1c" />
<rect x="1009.00" y="12.00" width="2.00" height="20.00" fill="#0d0f1c" />
<rect x="1120.25" y="12.00" width="2.00" height="20.00" fill="#0d0f1c" />
<rect x="1231.50" y="12.00" width="2.00" height="20.00" fill="#0d0f1c" />
<rect x="1342.75" y="12.00" width="2.00" height="20.00" fill="#0d0f1c" />
<rect x="1454.00" y="12.00" width="2.00" height="20.00" fill="#0d0f1c" />
<rect x="1565.25" y="12.00" width="2.00" height="20.00" fill="#0d0f1c" />
<rect x="1676.50" y="12.00" width="2.00" height="20.00" fill="#0d0f1c" />
<rect x="899.00" y="1.50" width="110.00" height="1.70" fill="#348cf0" />
<rect x="1797.5" y="12.5" width="16.5" height="16.5" fill="#21263f" stroke="#3a416b" stroke-width="1"/>
<line x1="1802.00" y1="20.70" x2="1809.50" y2="20.70" stroke="#9499b8" stroke-width="1.2" />
<line x1="1805.75" y1="17.00" x2="1805.75" y2="24.50" stroke="#9499b8" stroke-width="1.2" />
<rect x="27.7" y="52.8" width="13.6" height="13.4" fill="none" stroke="#cfd3e4" stroke-width="1.3"/><path d="M30 61.5 L33 58 L35.2 60.3 L39 57" fill="none" stroke="#cfd3e4" stroke-width="1.3"/>
<path d="M98 50.8 L105.2 55 L105.2 63.4 L98 67.6 L90.8 63.4 L90.8 55Z" fill="none" stroke="#cfd3e4" stroke-width="1.3"/><circle cx="98" cy="59.2" r="2.3" fill="none" stroke="#cfd3e4" stroke-width="1.3"/>
<path d="M155 65.5 L155 61.5 L164 52.5 L168 56.5 L159 65.5Z M161.5 55 L165.5 59" fill="none" stroke="#348cf0" stroke-width="1.3"/><path d="M163 66.3 L169 66.3" stroke="#348cf0" stroke-width="1.3"/>
<rect x="220.00" y="40.00" width="1.20" height="38.00" fill="#0d0f1c" />
<path d="M272.6 57.2 L282.8 57.2 L277.7 62.4Z" fill="#7d84a8"/>
<path d="M1713.8999999999999 52.5 L1709.3 52.5 L1709.3 57.1 M1709.3 52.5 L1713.6 56.8" fill="none" stroke="#9499b8" stroke-width="1.2"/>
<path d="M1719.1000000000001 52.5 L1723.7 52.5 L1723.7 57.1 M1723.7 52.5 L1719.4 56.8" fill="none" stroke="#9499b8" stroke-width="1.2"/>
<path d="M1713.8999999999999 66.3 L1709.3 66.3 L1709.3 61.699999999999996 M1709.3 66.3 L1713.6 62.0" fill="none" stroke="#9499b8" stroke-width="1.2"/>
<path d="M1719.1000000000001 66.3 L1723.7 66.3 L1723.7 61.699999999999996 M1723.7 66.3 L1719.4 62.0" fill="none" stroke="#9499b8" stroke-width="1.2"/>
<path d="M1736.5 58 L1736.5 52.6 L1750.6 52.6 L1750.6 66.4 L1745 66.4 M1736 63.3 L1742.4 63.3 M1739.2 60 L1739.2 66.6" fill="none" stroke="#9499b8" stroke-width="1.2"/>
<rect x="1766.5" y="48.5" width="74" height="24" fill="#21263f" stroke="#3a416b" stroke-width="1"/>
<path d="M1824 59.3 L1832 59.3 L1828 63.6Z" fill="#9499b8"/>
<rect x="22.00" y="84.00" width="27.00" height="28.00" fill="#2a3250" />
<path d="M26.2 98.3 H33.2 M37.6 98.3 H44.8 M35.4 88.8 V96.2 M35.4 100.4 V108.4" stroke="#348cf0" stroke-width="1.25" fill="none"/>
<path d="M51.8 97.6 L59.0 97.6 L55.4 102.0Z" fill="#8086a6"/>
<path d="M96.60000000000001 97.6 L103.8 97.6 L100.2 102.0Z" fill="#8086a6"/>
<path d="M141.8 97.6 L149.0 97.6 L145.4 102.0Z" fill="#8086a6"/>
<path d="M186.8 97.6 L194.0 97.6 L190.4 102.0Z" fill="#8086a6"/>
<path d="M231.8 97.6 L239.0 97.6 L235.4 102.0Z" fill="#8086a6"/>
<path d="M276.79999999999995 97.6 L284.0 97.6 L280.4 102.0Z" fill="#8086a6"/>
<path d="M321.79999999999995 97.6 L329.0 97.6 L325.4 102.0Z" fill="#8086a6"/>
<g fill="none" stroke="#9499b8" stroke-width="1.3"><path d="M75.5 103.3 L87 92"/><path d="M84.4 91.3 L87.8 91.2 L87.7 94.6Z" fill="#9499b8"/><path d="M74 101.3 L77.6 105"/><path d="M117.2 102.1 L129 90.2 M128.7 98 L133.7 93.2 M120 106.8 L125.3 101.2 M127.2 105.8 L132.5 100.4 M120.9 94.6 L124.7 97.4 M126.2 97.4 L130 100.5 M124 99.9 L127.5 102.7"/><ellipse cx="170.4" cy="98.4" rx="7.9" ry="6.9" stroke-width="1.35"/><path d="M207.9 92.9 H223.1 M207.9 97.9 H223.1 M207.9 103 H223.1" stroke-width="1.7"/><path d="M215.5 91 V94.9 M215.5 101 V105.1"/><path d="M251.2 105.2 L255.3 97.5 L257 102.8 L261 91.1 L263.8 102.8 L266.8 96.8 L270.7 105.2Z" stroke-width="1.4"/><rect x="298.9" y="91.4" width="14.3" height="13.6" stroke-width="1.6"/><circle cx="313.2" cy="91.1" r="1.5" fill="#191c30" stroke-width="1"/><circle cx="298.8" cy="105.2" r="1.5" fill="#191c30" stroke-width="1"/><path d="M301.2 98.6 H310.4 M305.3 94 V102.8 M303.4 95.8 L305.3 93.8 L307.2 95.8 M308.6 96.7 L310.6 98.6 L308.6 100.5" stroke-width="1.2"/><g transform="translate(382.6,98) rotate(-45)"><rect x="-7.7" y="-3" width="15.4" height="6" rx="1.2"/><path d="M-3.2 -3 V-0.3 M0 -3 V-0.3 M3.2 -3 V-0.3"/></g><rect x="374.4" y="88.5" width="6.2" height="3"/><rect x="384.2" y="103.4" width="6.4" height="3"/><rect x="374.4" y="93.6" width="2.6" height="2.9"/><g transform="translate(414.9,97.8) rotate(-45)"><rect x="-8" y="-3.1" width="16" height="6.2" rx="1.2"/><path d="M-3.2 -3 V-0.3 M0 -3 V-0.3 M3.2 -3 V-0.3"/></g><path d="M408.1 97 A7.6 7.6 0 0 1 413.5 90.2 M423.2 97.5 A7.6 7.6 0 0 1 417 104.4"/><g transform="translate(447.9,98.6) rotate(-44)"><rect x="-8.3" y="-3.3" width="16.6" height="6.6"/><path d="M-3.6 -3.3 V-0.3 M0 -3.3 V-0.3 M3.6 -3.3 V-0.3"/></g><path d="M476.1 105.7 L476.1 102.1 L486.3 91.5 L490.2 95.4 L480.2 105.7Z M483.4 94.5 L487.3 98.2 M485.2 105.3 C486.5 103.8 488 101.6 489.3 102.6 C490.5 103.6 490 105.6 491.6 105 C493 104.4 494.2 103 495.8 102.1"/><rect x="510.6" y="94.2" width="2.7" height="7"/><rect x="516.8" y="94.2" width="2.7" height="7"/><rect x="523" y="94.2" width="2.7" height="7"/><path d="M511.9 91 V94.2 M511.9 101.2 V105.2 M518.1 91 V94.2 M518.1 101.2 V105.2 M524.3 91 V94.2 M524.3 101.2 V105.2 M508.4 102.5 L527.8 95"/><rect x="544.6" y="95.8" width="11.7" height="9.5"/><path d="M549 95.6 V91.8 H554.2 M550.5 98.6 V102.1"/><path d="M579 105.6 L579 93.3 L589.6 93.3 L589.6 105.6 L584.3 102.5 Z M576.3 103 V90.4 H586.9"/><path d="M612.5 106.5 H605.4 V90.9 H624.4 V95.5 M610.8 89.3 V92.6 M619.2 89.3 V92.6 M609 95.5 H614.7 M609 100.8 H612.5"/><path d="M615.5 105.8 L621.2 100.4 M616.6 106.6 L622 101.5" stroke-width="1.1"/><path d="M620.5 105.8 C621.5 104 622.3 103.6 622.7 104.6 C623 105.6 623.8 105.6 624.8 104.6" stroke-width="1.1"/><path d="M639 93.9 H657.1 M641.5 94.2 V105.3 H654.7 V94.2 M643.6 93.8 V91.4 H652.6 V93.8 M646.1 97.2 V102.1 M650 97.2 V102.1"/></g>
<path d="M27.5 151.5 L32 156 L36.5 151.5" fill="none" stroke="#9499b8" stroke-width="1.2"/>
<rect x="83.30" y="145.60" width="17.50" height="17.50" fill="#848aa8" />
<circle cx="92.05" cy="154.35" r="5.4" fill="none" stroke="#10131f" stroke-width="2.8" stroke-dasharray="2.6 1.641" stroke-dashoffset="1.3"/><circle cx="92.05" cy="154.35" r="3.5" fill="none" stroke="#10131f" stroke-width="3.2"/>
<rect x="106.60" y="145.60" width="16.50" height="17.50" fill="#848aa8" />
<path d="M109.8 149.2 L119.89999999999999 159.5 M119.89999999999999 149.2 L109.8 159.5" stroke="#10131f" stroke-width="2.5" fill="none"/>
<path d="M1080.3 151.9 L1084.6 154.7 L1080.3 157.5" fill="none" stroke="#c3c7da" stroke-width="1.3"/>
<path d="M10.6 678.9 V684.9 M10.6 681.9 H15.8" fill="none" stroke="#d9dcf0" stroke-width="1.7"/>
<path d="M27.5 722.5 L32 727 L36.5 722.5" fill="none" stroke="#9499b8" stroke-width="1.2"/>
<rect x="115.00" y="716.30" width="17.50" height="17.50" fill="#848aa8" />
<circle cx="123.75" cy="725.05" r="5.4" fill="none" stroke="#10131f" stroke-width="2.8" stroke-dasharray="2.6 1.641" stroke-dashoffset="1.3"/><circle cx="123.75" cy="725.05" r="3.5" fill="none" stroke="#10131f" stroke-width="3.2"/>
<rect x="138.50" y="716.30" width="16.50" height="17.50" fill="#848aa8" />
<path d="M141.7 719.9 L151.8 730.1999999999999 M151.8 719.9 L141.7 730.1999999999999" stroke="#10131f" stroke-width="2.5" fill="none"/>
<text x="16.70" y="33.20" font-size="12.6" fill="#5b607b">火币全球站</text>
<text x="127.95" y="33.20" font-size="12.6" fill="#5b607b">火币全球站</text>
<text x="239.20" y="33.20" font-size="12.6" fill="#5b607b">火币全球站</text>
<text x="350.45" y="33.20" font-size="12.6" fill="#5b607b">火币全球站</text>
<text x="461.70" y="33.20" font-size="12.6" fill="#5b607b">火币全球站</text>
<text x="572.95" y="33.20" font-size="12.6" fill="#5b607b">火币全球站</text>
<text x="684.20" y="33.20" font-size="12.6" fill="#5b607b">火币全球站</text>
<text x="795.45" y="33.20" font-size="12.6" fill="#5b607b">火币全球站</text>
<text x="906.70" y="33.20" font-size="12.6" fill="#7f84a0">火币全球站</text>
<text x="1017.95" y="33.20" font-size="12.6" fill="#5b607b">币安</text>
<text x="1240.45" y="33.20" font-size="12.6" fill="#5b607b">火币全球站</text>
<text x="1351.70" y="33.20" font-size="12.6" fill="#5b607b">火币全球站</text>
<text x="1462.95" y="33.20" font-size="12.6" fill="#5b607b">火币全球站</text>
<text x="1574.20" y="33.20" font-size="12.6" fill="#5b607b">火币全球站</text>
<text x="47.00" y="64.30" font-size="15" fill="#cfd3e4" stroke="#cfd3e4" stroke-width="0.3">指标</text>
<text x="112.00" y="64.30" font-size="15" fill="#cfd3e4" stroke="#cfd3e4" stroke-width="0.3">设置</text>
<text x="174.50" y="64.30" font-size="15" fill="#348cf0" stroke="#348cf0" stroke-width="0.3">画线</text>
<text x="235.00" y="64.30" font-size="15" fill="#cfd3e4" stroke="#cfd3e4" stroke-width="0.3">周期</text>
<text x="293.00" y="64.30" font-size="15" fill="#cfd3e4" stroke="#cfd3e4" stroke-width="0.3">分时</text>
<text x="341.42" y="64.30" font-size="15" fill="#cfd3e4" stroke="#cfd3e4" stroke-width="0.3">分钟</text>
<text x="389.85" y="64.30" font-size="15" fill="#cfd3e4" stroke="#cfd3e4" stroke-width="0.3">分钟</text>
<text x="438.27" y="64.30" font-size="15" fill="#cfd3e4" stroke="#cfd3e4" stroke-width="0.3">分钟</text>
<text x="495.11" y="64.30" font-size="15" fill="#cfd3e4" stroke="#cfd3e4" stroke-width="0.3">分钟</text>
<text x="551.96" y="64.30" font-size="15" fill="#cfd3e4" stroke="#cfd3e4" stroke-width="0.3">分钟</text>
<text x="608.81" y="64.30" font-size="15" fill="#cfd3e4" stroke="#cfd3e4" stroke-width="0.3">分钟</text>
<text x="657.23" y="64.30" font-size="15" fill="#cfd3e4" stroke="#cfd3e4" stroke-width="0.3">小时</text>
<text x="705.65" y="64.30" font-size="15" fill="#cfd3e4" stroke="#cfd3e4" stroke-width="0.3">小时</text>
<text x="754.07" y="64.30" font-size="15" fill="#cfd3e4" stroke="#cfd3e4" stroke-width="0.3">小时</text>
<text x="802.50" y="64.30" font-size="15" fill="#cfd3e4" stroke="#cfd3e4" stroke-width="0.3">小时</text>
<text x="850.92" y="64.30" font-size="15" fill="#cfd3e4" stroke="#cfd3e4" stroke-width="0.3">小时</text>
<text x="907.77" y="64.30" font-size="15" fill="#cfd3e4" stroke="#cfd3e4" stroke-width="0.3">小时</text>
<text x="956.19" y="64.30" font-size="15" fill="#348cf0" stroke="#348cf0" stroke-width="0.3">日</text>
<text x="989.61" y="64.30" font-size="15" fill="#cfd3e4" stroke="#cfd3e4" stroke-width="0.3">日</text>
<text x="1023.03" y="64.30" font-size="15" fill="#cfd3e4" stroke="#cfd3e4" stroke-width="0.3">日</text>
<text x="1056.46" y="64.30" font-size="15" fill="#cfd3e4" stroke="#cfd3e4" stroke-width="0.3">日</text>
<text x="1081.46" y="64.30" font-size="15" fill="#cfd3e4" stroke="#cfd3e4" stroke-width="0.3">周</text>
<text x="1115.86" y="64.30" font-size="15" fill="#cfd3e4" stroke="#cfd3e4" stroke-width="0.3">月</text>
<text x="1150.27" y="64.30" font-size="15" fill="#cfd3e4" stroke="#cfd3e4" stroke-width="0.3">季</text>
<text x="1184.67" y="64.30" font-size="15" fill="#cfd3e4" stroke="#cfd3e4" stroke-width="0.3">年</text>
<text x="1774.00" y="64.60" font-size="14.7" fill="#cfd3e4" stroke="#cfd3e4" stroke-width="0.29">单窗口</text>
<text x="15.00" y="136.30" font-size="15" fill="#cfd3e4" stroke="#cfd3e4" stroke-width="0.25">时间</text>
<text x="172.83" y="136.30" font-size="15" fill="#cfd3e4" stroke="#cfd3e4" stroke-width="0.25">开</text>
<text x="236.50" y="136.30" font-size="15" fill="#cfd3e4" stroke="#cfd3e4" stroke-width="0.25">高</text>
<text x="300.17" y="136.30" font-size="15" fill="#cfd3e4" stroke="#cfd3e4" stroke-width="0.25">低</text>
<text x="363.85" y="136.30" font-size="15" fill="#cfd3e4" stroke="#cfd3e4" stroke-width="0.25">收</text>
<text x="427.52" y="136.30" font-size="15" fill="#cfd3e4" stroke="#cfd3e4" stroke-width="0.25">涨幅</text>
<text x="556.59" y="136.30" font-size="15" fill="#cfd3e4" stroke="#cfd3e4" stroke-width="0.25">振幅</text>
<text x="138.70" y="901.30" font-size="13.6" fill="#b9bccd">月</text>
<text x="363.70" y="901.30" font-size="13.6" fill="#b9bccd">月</text>
<text x="476.20" y="901.30" font-size="13.6" fill="#b9bccd">月</text>
<text x="588.70" y="901.30" font-size="13.6" fill="#b9bccd">月</text>
<text x="705.02" y="901.30" font-size="13.6" fill="#b9bccd">月</text>
<text x="813.70" y="901.30" font-size="13.6" fill="#b9bccd">月</text>
<text x="926.20" y="901.30" font-size="13.6" fill="#b9bccd">月</text>
<text x="1042.52" y="901.30" font-size="13.6" fill="#b9bccd">月</text>
<text x="1151.20" y="901.30" font-size="13.6" fill="#b9bccd">月</text>
<text x="1263.70" y="901.30" font-size="13.6" fill="#b9bccd">月</text>
<text x="1376.20" y="901.30" font-size="13.6" fill="#b9bccd">月</text>
<text x="1492.52" y="901.30" font-size="13.6" fill="#b9bccd">月</text>
<text x="1601.20" y="901.30" font-size="13.6" fill="#b9bccd">月</text>
<text x="1713.70" y="901.30" font-size="13.6" fill="#b9bccd">月</text>
<text x="1755.00" y="901.60" font-size="14.5" fill="#348cf0">对数</text>
<text x="1821.20" y="901.60" font-size="14.5" fill="#348cf0">自动</text>
</svg>
<div id="tx">
<span class="t" style="left:17.00px;top:8.00px;font-size:14.57px;color:#868ba8;transform:scaleX(0.9637);-webkit-text-stroke:0.4px #868ba8;">BTC/USDT</span>
<span class="t" style="left:128.25px;top:8.00px;font-size:14.57px;color:#868ba8;transform:scaleX(0.9653);-webkit-text-stroke:0.4px #868ba8;">ETH/USDT</span>
<span class="t" style="left:239.50px;top:8.00px;font-size:14.57px;color:#868ba8;transform:scaleX(0.9537);-webkit-text-stroke:0.4px #868ba8;">XRP/USDT</span>
<span class="t" style="left:350.75px;top:8.00px;font-size:14.57px;color:#868ba8;transform:scaleX(0.9599);-webkit-text-stroke:0.4px #868ba8;">BSV/USDT</span>
<span class="t" style="left:462.00px;top:8.00px;font-size:14.57px;color:#868ba8;transform:scaleX(0.9657);-webkit-text-stroke:0.4px #868ba8;">BCH/USDT</span>
<span class="t" style="left:573.25px;top:8.00px;font-size:14.57px;color:#868ba8;transform:scaleX(0.9385);-webkit-text-stroke:0.4px #868ba8;">EOS/USDT</span>
<span class="t" style="left:684.50px;top:8.00px;font-size:14.57px;color:#868ba8;transform:scaleX(0.9831);-webkit-text-stroke:0.4px #868ba8;">LTC/USDT</span>
<span class="t" style="left:795.75px;top:8.00px;font-size:14.57px;color:#868ba8;transform:scaleX(0.9528);-webkit-text-stroke:0.4px #868ba8;">ETC/USDT</span>
<span class="t" style="left:907.00px;top:8.00px;font-size:14.57px;color:#e6e8f5;transform:scaleX(0.9532);-webkit-text-stroke:0.4px #e6e8f5;">ZEC/USDT</span>
<span class="t" style="left:1018.25px;top:8.00px;font-size:14.57px;color:#868ba8;transform:scaleX(0.9705);-webkit-text-stroke:0.4px #868ba8;">BNB/USDT</span>
<span class="t" style="left:1129.50px;top:8.00px;font-size:14.57px;color:#868ba8;transform:scaleX(0.9558);-webkit-text-stroke:0.4px #868ba8;">OKB/USDT</span>
<span class="t" style="left:1129.50px;top:23.00px;font-size:12.34px;color:#5b607b;transform:scaleX(0.9227);-webkit-text-stroke:0.25px #5b607b;">OKEx</span>
<span class="t" style="left:1240.75px;top:8.00px;font-size:14.57px;color:#868ba8;transform:scaleX(0.9766);-webkit-text-stroke:0.4px #868ba8;">LINK/USDT</span>
<span class="t" style="left:1352.00px;top:8.00px;font-size:14.57px;color:#868ba8;transform:scaleX(0.9948);-webkit-text-stroke:0.4px #868ba8;">ATOM/USDT</span>
<span class="t" style="left:1463.25px;top:8.00px;font-size:14.57px;color:#868ba8;transform:scaleX(0.9541);-webkit-text-stroke:0.4px #868ba8;">ALGO/USDT</span>
<span class="t" style="left:1574.50px;top:8.00px;font-size:14.57px;color:#868ba8;transform:scaleX(0.9695);-webkit-text-stroke:0.4px #868ba8;">QTUM/USDT</span>
<span class="t" style="left:1685.75px;top:8.00px;font-size:14.57px;color:#868ba8;transform:scaleX(0.9566);-webkit-text-stroke:0.4px #868ba8;">DOT/USDT</span>
<span class="t" style="left:1685.75px;top:23.00px;font-size:12.34px;color:#5b607b;transform:scaleX(0.9227);-webkit-text-stroke:0.25px #5b607b;">OKEx</span>
<span class="t" style="left:333.00px;top:51.00px;font-size:15.95px;color:#cfd3e4;transform:scaleX(0.9493);-webkit-text-stroke:0.25px #cfd3e4;">1</span>
<span class="t" style="left:381.42px;top:51.00px;font-size:15.95px;color:#cfd3e4;transform:scaleX(0.9493);-webkit-text-stroke:0.25px #cfd3e4;">3</span>
<span class="t" style="left:429.85px;top:51.00px;font-size:15.95px;color:#cfd3e4;transform:scaleX(0.9493);-webkit-text-stroke:0.25px #cfd3e4;">5</span>
<span class="t" style="left:478.27px;top:51.00px;font-size:15.95px;color:#cfd3e4;transform:scaleX(0.9493);-webkit-text-stroke:0.25px #cfd3e4;">10</span>
<span class="t" style="left:535.11px;top:51.00px;font-size:15.95px;color:#cfd3e4;transform:scaleX(0.9493);-webkit-text-stroke:0.25px #cfd3e4;">15</span>
<span class="t" style="left:591.96px;top:51.00px;font-size:15.95px;color:#cfd3e4;transform:scaleX(0.9493);-webkit-text-stroke:0.25px #cfd3e4;">30</span>
<span class="t" style="left:648.81px;top:51.00px;font-size:15.95px;color:#cfd3e4;transform:scaleX(0.9493);-webkit-text-stroke:0.25px #cfd3e4;">1</span>
<span class="t" style="left:697.23px;top:51.00px;font-size:15.95px;color:#cfd3e4;transform:scaleX(0.9493);-webkit-text-stroke:0.25px #cfd3e4;">2</span>
<span class="t" style="left:745.65px;top:51.00px;font-size:15.95px;color:#cfd3e4;transform:scaleX(0.9493);-webkit-text-stroke:0.25px #cfd3e4;">3</span>
<span class="t" style="left:794.07px;top:51.00px;font-size:15.95px;color:#cfd3e4;transform:scaleX(0.9493);-webkit-text-stroke:0.25px #cfd3e4;">4</span>
<span class="t" style="left:842.50px;top:51.00px;font-size:15.95px;color:#cfd3e4;transform:scaleX(0.9493);-webkit-text-stroke:0.25px #cfd3e4;">6</span>
<span class="t" style="left:890.92px;top:51.00px;font-size:15.95px;color:#cfd3e4;transform:scaleX(0.9493);-webkit-text-stroke:0.25px #cfd3e4;">12</span>
<span class="t" style="left:947.77px;top:51.00px;font-size:15.95px;color:#348cf0;transform:scaleX(0.9493);-webkit-text-stroke:0.25px #348cf0;">1</span>
<span class="t" style="left:981.19px;top:51.00px;font-size:15.95px;color:#cfd3e4;transform:scaleX(0.9493);-webkit-text-stroke:0.25px #cfd3e4;">2</span>
<span class="t" style="left:1014.61px;top:51.00px;font-size:15.95px;color:#cfd3e4;transform:scaleX(0.9493);-webkit-text-stroke:0.25px #cfd3e4;">3</span>
<span class="t" style="left:1048.03px;top:51.00px;font-size:15.95px;color:#cfd3e4;transform:scaleX(0.9493);-webkit-text-stroke:0.25px #cfd3e4;">5</span>
<span class="t" style="left:1096.46px;top:51.00px;font-size:15.95px;color:#cfd3e4;transform:scaleX(0.8838);-webkit-text-stroke:0.25px #cfd3e4;">K</span>
<span class="t" style="left:1130.86px;top:51.00px;font-size:15.95px;color:#cfd3e4;transform:scaleX(0.8838);-webkit-text-stroke:0.25px #cfd3e4;">K</span>
<span class="t" style="left:1165.27px;top:51.00px;font-size:15.95px;color:#cfd3e4;transform:scaleX(0.8838);-webkit-text-stroke:0.25px #cfd3e4;">K</span>
<span class="t" style="left:1199.67px;top:51.00px;font-size:15.95px;color:#cfd3e4;transform:scaleX(0.8838);-webkit-text-stroke:0.25px #cfd3e4;">K</span>
<span class="t" style="left:1678.50px;top:51.00px;font-size:15.95px;color:#cfd3e4;transform:scaleX(0.9589);-webkit-text-stroke:0.25px #cfd3e4;">4s</span>
<span class="t" style="left:340.80px;top:91.00px;font-size:16.16px;color:#a3a8c6;transform:scaleX(1.0422);-webkit-text-stroke:0.25px #a3a8c6;">Aa</span>
<span class="t" style="left:45.00px;top:124.30px;font-size:14.92px;color:#cfd3e4;transform:scaleX(0.8764);-webkit-text-stroke:0.25px #cfd3e4;">:</span>
<span class="t" style="left:48.63px;top:124.30px;font-size:14.92px;color:#cfd3e4;transform:scaleX(0.9906);-webkit-text-stroke:0.25px #cfd3e4;">2020-05-31 08:00</span>
<span class="t" style="left:187.83px;top:124.30px;font-size:14.92px;color:#cfd3e4;transform:scaleX(0.8764);-webkit-text-stroke:0.25px #cfd3e4;">:</span>
<span class="t" style="left:191.46px;top:124.30px;font-size:14.92px;color:#e2625e;transform:scaleX(1.0081);-webkit-text-stroke:0.25px #e2625e;">54.53</span>
<span class="t" style="left:251.50px;top:124.30px;font-size:14.92px;color:#cfd3e4;transform:scaleX(0.8764);-webkit-text-stroke:0.25px #cfd3e4;">:</span>
<span class="t" style="left:255.13px;top:124.30px;font-size:14.92px;color:#e2625e;transform:scaleX(1.0081);-webkit-text-stroke:0.25px #e2625e;">55.69</span>
<span class="t" style="left:315.17px;top:124.30px;font-size:14.92px;color:#cfd3e4;transform:scaleX(0.8764);-webkit-text-stroke:0.25px #cfd3e4;">:</span>
<span class="t" style="left:318.81px;top:124.30px;font-size:14.92px;color:#e2625e;transform:scaleX(1.0081);-webkit-text-stroke:0.25px #e2625e;">50.69</span>
<span class="t" style="left:378.85px;top:124.30px;font-size:14.92px;color:#cfd3e4;transform:scaleX(0.8764);-webkit-text-stroke:0.25px #cfd3e4;">:</span>
<span class="t" style="left:382.48px;top:124.30px;font-size:14.92px;color:#e2625e;transform:scaleX(1.0081);-webkit-text-stroke:0.25px #e2625e;">51.51</span>
<span class="t" style="left:457.52px;top:124.30px;font-size:14.92px;color:#cfd3e4;transform:scaleX(0.8764);-webkit-text-stroke:0.25px #cfd3e4;">:</span>
<span class="t" style="left:461.15px;top:124.30px;font-size:14.92px;color:#e2625e;transform:scaleX(0.9651);-webkit-text-stroke:0.25px #e2625e;">-5.54%(-3.02)</span>
<span class="t" style="left:586.59px;top:124.30px;font-size:14.92px;color:#cfd3e4;transform:scaleX(0.8764);-webkit-text-stroke:0.25px #cfd3e4;">:</span>
<span class="t" style="left:590.22px;top:124.30px;font-size:14.92px;color:#e2625e;transform:scaleX(0.9503);-webkit-text-stroke:0.25px #e2625e;">9.17%</span>
<span class="t" style="left:12.40px;top:135.90px;font-size:14.51px;color:#1f6fc4;transform:scaleX(1.0016);-webkit-text-stroke:0.25px #1f6fc4;">0.0% 102.72</span>
<span class="t" style="left:12.40px;top:251.40px;font-size:14.51px;color:#2b8cf2;transform:scaleX(1.0016);-webkit-text-stroke:0.25px #2b8cf2;">23.6% 82.53</span>
<span class="t" style="left:12.40px;top:337.80px;font-size:14.51px;color:#2b8cf2;transform:scaleX(1.0016);-webkit-text-stroke:0.25px #2b8cf2;">38.2% 70.04</span>
<span class="t" style="left:12.40px;top:420.00px;font-size:14.51px;color:#2b8cf2;transform:scaleX(1.0016);-webkit-text-stroke:0.25px #2b8cf2;">50.0% 59.94</span>
<span class="t" style="left:12.40px;top:517.50px;font-size:14.51px;color:#2b8cf2;transform:scaleX(1.0016);-webkit-text-stroke:0.25px #2b8cf2;">61.8% 49.85</span>
<span class="t" style="left:51.00px;top:147.00px;font-size:14.51px;color:#cfd3e4;transform:scaleX(1.0235);-webkit-text-stroke:0.25px #cfd3e4;">MA</span>
<span class="t" style="left:131.90px;top:146.00px;font-size:15.13px;color:#d3d6e8;transform:scaleX(0.9840);-webkit-text-stroke:0.25px #d3d6e8;">MA(7):48.21</span>
<span class="t" style="left:222.00px;top:146.00px;font-size:15.13px;color:#f3e231;transform:scaleX(0.9908);-webkit-text-stroke:0.25px #f3e231;">MA(20):46.37</span>
<span class="t" style="left:320.00px;top:146.00px;font-size:15.13px;color:#d93bc3;transform:scaleX(0.9951);-webkit-text-stroke:0.25px #d93bc3;">MA(30):45.51</span>
<span class="t" style="left:419.80px;top:146.00px;font-size:15.13px;color:#a9e07c;transform:scaleX(1.0074);-webkit-text-stroke:0.25px #a9e07c;">MA(144):46.70</span>
<span class="t" style="left:527.40px;top:146.00px;font-size:15.13px;color:#f58d8b;transform:scaleX(0.9994);-webkit-text-stroke:0.25px #f58d8b;">MA(169):44.09</span>
<span class="t" style="left:1028.20px;top:146.80px;font-size:13.89px;color:#c3c7da;transform:scaleX(0.9983);-webkit-text-stroke:0.25px #c3c7da;">102.72</span>
<span class="t" style="left:19.90px;top:675.10px;font-size:13.68px;color:#d9dcf0;transform:scaleX(1.0166);-webkit-text-stroke:0.25px #d9dcf0;">37.88</span>
<span class="t" style="left:1799.24px;top:174.90px;font-size:14.24px;color:#b9bdd0;transform:scaleX(0.9861);-webkit-text-stroke:0.1px #b9bdd0;">97.52</span>
<span class="t" style="left:1799.24px;top:237.40px;font-size:14.24px;color:#b9bdd0;transform:scaleX(0.9861);-webkit-text-stroke:0.1px #b9bdd0;">86.65</span>
<span class="t" style="left:1799.24px;top:362.40px;font-size:14.24px;color:#b9bdd0;transform:scaleX(0.9861);-webkit-text-stroke:0.1px #b9bdd0;">68.42</span>
<span class="t" style="left:1799.24px;top:424.90px;font-size:14.24px;color:#b9bdd0;transform:scaleX(0.9861);-webkit-text-stroke:0.1px #b9bdd0;">60.80</span>
<span class="t" style="left:1799.24px;top:487.40px;font-size:14.24px;color:#b9bdd0;transform:scaleX(0.9861);-webkit-text-stroke:0.1px #b9bdd0;">54.02</span>
<span class="t" style="left:1799.24px;top:549.90px;font-size:14.24px;color:#b9bdd0;transform:scaleX(0.9861);-webkit-text-stroke:0.1px #b9bdd0;">48.00</span>
<span class="t" style="left:1799.24px;top:612.40px;font-size:14.24px;color:#b9bdd0;transform:scaleX(0.9861);-webkit-text-stroke:0.1px #b9bdd0;">42.66</span>
<span class="t" style="left:1799.24px;top:674.90px;font-size:14.24px;color:#b9bdd0;transform:scaleX(0.9861);-webkit-text-stroke:0.1px #b9bdd0;">37.90</span>
<span class="t" style="left:1795.00px;top:134.90px;font-size:14.24px;color:#ccd0e2;transform:scaleX(0.9874);-webkit-text-stroke:0.1px #ccd0e2;">105.18</span>
<span class="t" style="left:1799.61px;top:299.80px;font-size:13.58px;color:#e9a9a6;transform:scaleX(1.0118);-webkit-text-stroke:0.25px #e9a9a6;opacity:.3;">77.00</span>
<span class="t" style="left:1799.66px;top:304.00px;font-size:13.67px;color:#fff;transform:scaleX(0.9901);-webkit-text-stroke:0.12px #fff;">76.43</span>
<span class="t" style="left:1792.59px;top:759.40px;font-size:13.58px;color:#c4c7d8;transform:scaleX(1.0145);-webkit-text-stroke:0.25px #c4c7d8;">500.00k</span>
<span class="t" style="left:1812.95px;top:845.00px;font-size:13.20px;color:#aeb3c8;transform:scaleX(0.9942);-webkit-text-stroke:0.1px #aeb3c8;">0</span>
<span class="t" style="left:1800.03px;top:834.00px;font-size:13.67px;color:#fff;transform:scaleX(0.9907);-webkit-text-stroke:0.12px #fff;">63.6k</span>
<span class="t" style="left:49.80px;top:717.60px;font-size:14.92px;color:#cfd3e4;transform:scaleX(0.9427);-webkit-text-stroke:0.25px #cfd3e4;">VOLUME</span>
<span class="t" style="left:163.40px;top:717.60px;font-size:14.92px;color:#cfd3e4;transform:scaleX(0.9733);-webkit-text-stroke:0.25px #cfd3e4;">VOLUME:318,981.2609</span>
<span class="t" style="left:324.50px;top:717.60px;font-size:14.92px;color:#cfd3e4;transform:scaleX(1.0101);-webkit-text-stroke:0.25px #cfd3e4;">MA(7):172,823.7060</span>
<span class="t" style="left:468.20px;top:717.60px;font-size:14.92px;color:#f3e231;transform:scaleX(1.0217);-webkit-text-stroke:0.25px #f3e231;">MA(180):211,676.8362</span>
<span class="t" style="left:21.80px;top:864.20px;font-size:13.16px;color:#b9bccd;transform:scaleX(1.0281);-webkit-text-stroke:0.25px #b9bccd;">MA</span>
<span class="t" style="left:52.80px;top:864.20px;font-size:13.16px;color:#b9bccd;transform:scaleX(1.0061);-webkit-text-stroke:0.25px #b9bccd;">EMA</span>
<span class="t" style="left:92.80px;top:864.20px;font-size:13.16px;color:#348cf0;transform:scaleX(0.9714);-webkit-text-stroke:0.25px #348cf0;">VOLUME</span>
<span class="t" style="left:157.70px;top:864.20px;font-size:13.16px;color:#b9bccd;transform:scaleX(0.9934);-webkit-text-stroke:0.25px #b9bccd;">MACD</span>
<span class="t" style="left:207.50px;top:864.20px;font-size:13.16px;color:#b9bccd;transform:scaleX(1.0030);-webkit-text-stroke:0.25px #b9bccd;">DMI</span>
<span class="t" style="left:242.70px;top:864.20px;font-size:13.16px;color:#b9bccd;transform:scaleX(1.0017);-webkit-text-stroke:0.25px #b9bccd;">DMA</span>
<span class="t" style="left:283.30px;top:864.20px;font-size:13.16px;color:#b9bccd;transform:scaleX(0.9905);-webkit-text-stroke:0.25px #b9bccd;">TRIX</span>
<span class="t" style="left:323.70px;top:864.20px;font-size:13.16px;color:#b9bccd;transform:scaleX(0.9980);-webkit-text-stroke:0.25px #b9bccd;">BRAR</span>
<span class="t" style="left:371.20px;top:864.20px;font-size:13.16px;color:#b9bccd;transform:scaleX(1.0226);-webkit-text-stroke:0.25px #b9bccd;">VR</span>
<span class="t" style="left:400.90px;top:864.20px;font-size:13.16px;color:#b9bccd;transform:scaleX(0.9965);-webkit-text-stroke:0.25px #b9bccd;">OBV</span>
<span class="t" style="left:439.90px;top:864.20px;font-size:13.16px;color:#b9bccd;transform:scaleX(0.9851);-webkit-text-stroke:0.25px #b9bccd;">EMV</span>
<span class="t" style="left:479.30px;top:864.20px;font-size:13.16px;color:#b9bccd;transform:scaleX(1.0026);-webkit-text-stroke:0.25px #b9bccd;">RSI</span>
<span class="t" style="left:512.60px;top:864.20px;font-size:13.16px;color:#b9bccd;transform:scaleX(0.9986);-webkit-text-stroke:0.25px #b9bccd;">WR</span>
<span class="t" style="left:545.90px;top:864.20px;font-size:13.16px;color:#b9bccd;transform:scaleX(1.0123);-webkit-text-stroke:0.25px #b9bccd;">SAR</span>
<span class="t" style="left:584.10px;top:864.20px;font-size:13.16px;color:#b9bccd;transform:scaleX(1.0093);-webkit-text-stroke:0.25px #b9bccd;">KDJ</span>
<span class="t" style="left:620.50px;top:864.20px;font-size:13.16px;color:#b9bccd;transform:scaleX(0.9948);-webkit-text-stroke:0.25px #b9bccd;">ROC</span>
<span class="t" style="left:660.60px;top:864.20px;font-size:13.16px;color:#b9bccd;transform:scaleX(1.0010);-webkit-text-stroke:0.25px #b9bccd;">MTM</span>
<span class="t" style="left:701.60px;top:864.20px;font-size:13.16px;color:#b9bccd;transform:scaleX(0.9774);-webkit-text-stroke:0.25px #b9bccd;">BOLL</span>
<span class="t" style="left:746.10px;top:864.20px;font-size:13.16px;color:#b9bccd;transform:scaleX(1.0061);-webkit-text-stroke:0.25px #b9bccd;">PSY</span>
<span class="t" style="left:783.60px;top:864.20px;font-size:13.16px;color:#b9bccd;transform:scaleX(0.9748);-webkit-text-stroke:0.25px #b9bccd;">StochRSI</span>
<span class="t" style="left:849.10px;top:864.20px;font-size:13.16px;color:#b9bccd;transform:scaleX(0.9956);-webkit-text-stroke:0.25px #b9bccd;">SMI</span>
<span class="t" style="left:883.40px;top:864.20px;font-size:13.16px;color:#b9bccd;transform:scaleX(1.0102);-webkit-text-stroke:0.25px #b9bccd;">CCI</span>
<span class="t" style="left:917.60px;top:864.20px;font-size:13.16px;color:#b9bccd;transform:scaleX(0.9972);-webkit-text-stroke:0.25px #b9bccd;">MFI</span>
<span class="t" style="left:951.50px;top:864.20px;font-size:13.16px;color:#b9bccd;transform:scaleX(1.0059);-webkit-text-stroke:0.25px #b9bccd;">ATR</span>
<span class="t" style="left:988.30px;top:864.20px;font-size:13.16px;color:#b9bccd;transform:scaleX(0.9905);-webkit-text-stroke:0.25px #b9bccd;">BBW</span>
<span class="t" style="left:1029.30px;top:864.20px;font-size:13.16px;color:#b9bccd;transform:scaleX(0.9778);-webkit-text-stroke:0.25px #b9bccd;">SKDJ</span>
<span class="t" style="left:1073.50px;top:864.20px;font-size:13.16px;color:#b9bccd;transform:scaleX(0.9901);-webkit-text-stroke:0.25px #b9bccd;">BIAS</span>
<span class="t" style="left:1114.50px;top:864.20px;font-size:13.16px;color:#b9bccd;transform:scaleX(0.9851);-webkit-text-stroke:0.25px #b9bccd;">DPO</span>
<span class="t" style="left:1153.90px;top:864.20px;font-size:13.16px;color:#b9bccd;transform:scaleX(1.0201);-webkit-text-stroke:0.25px #b9bccd;">AO</span>
<span class="t" style="left:1185.00px;top:864.20px;font-size:13.16px;color:#b9bccd;transform:scaleX(0.9716);-webkit-text-stroke:0.25px #b9bccd;">Position</span>
<span class="t" style="left:1242.20px;top:864.20px;font-size:13.16px;color:#b9bccd;transform:scaleX(0.9661);-webkit-text-stroke:0.25px #b9bccd;">Fundflow</span>
<span class="t" style="left:1305.20px;top:864.20px;font-size:13.16px;color:#b9bccd;transform:scaleX(0.9632);-webkit-text-stroke:0.25px #b9bccd;">AI-NetVOL</span>
<span class="t" style="left:1378.10px;top:864.20px;font-size:13.16px;color:#b9bccd;transform:scaleX(0.9854);-webkit-text-stroke:0.25px #b9bccd;">LSUR</span>
<span class="t" style="left:1424.00px;top:864.20px;font-size:13.16px;color:#b9bccd;transform:scaleX(0.9826);-webkit-text-stroke:0.25px #b9bccd;">BASIS</span>
<span class="t" style="left:1473.40px;top:864.20px;font-size:13.16px;color:#b9bccd;transform:scaleX(0.9760);-webkit-text-stroke:0.25px #b9bccd;">TVolume</span>
<span class="t" style="left:1535.40px;top:864.20px;font-size:13.16px;color:#b9bccd;transform:scaleX(0.9780);-webkit-text-stroke:0.25px #b9bccd;">FTBS</span>
<span class="t" style="left:1579.90px;top:864.20px;font-size:13.16px;color:#b9bccd;transform:scaleX(0.9853);-webkit-text-stroke:0.25px #b9bccd;">TTSI</span>
<span class="t" style="left:1619.30px;top:864.20px;font-size:13.16px;color:#b9bccd;transform:scaleX(0.9712);-webkit-text-stroke:0.25px #b9bccd;">TTMU</span>
<span class="t" style="left:1666.20px;top:864.20px;font-size:13.16px;color:#b9bccd;transform:scaleX(0.9754);-webkit-text-stroke:0.25px #b9bccd;">AI-BSI</span>
<span class="t" style="left:1715.20px;top:864.20px;font-size:13.16px;color:#b9bccd;transform:scaleX(0.9895);-webkit-text-stroke:0.25px #b9bccd;">MLR</span>
<span class="t" style="left:131.06px;top:890.30px;font-size:13.47px;color:#b9bccd;transform:scaleX(1.0191);-webkit-text-stroke:0.25px #b9bccd;">5</span>
<span class="t" style="left:152.30px;top:890.30px;font-size:13.47px;color:#b9bccd;transform:scaleX(0.9952);-webkit-text-stroke:0.25px #b9bccd;"> 23</span>
<span class="t" style="left:356.06px;top:890.30px;font-size:13.47px;color:#b9bccd;transform:scaleX(1.0191);-webkit-text-stroke:0.25px #b9bccd;">6</span>
<span class="t" style="left:377.30px;top:890.30px;font-size:13.47px;color:#b9bccd;transform:scaleX(0.9952);-webkit-text-stroke:0.25px #b9bccd;"> 10</span>
<span class="t" style="left:468.56px;top:890.30px;font-size:13.47px;color:#b9bccd;transform:scaleX(1.0191);-webkit-text-stroke:0.25px #b9bccd;">6</span>
<span class="t" style="left:489.80px;top:890.30px;font-size:13.47px;color:#b9bccd;transform:scaleX(0.9952);-webkit-text-stroke:0.25px #b9bccd;"> 19</span>
<span class="t" style="left:581.06px;top:890.30px;font-size:13.47px;color:#b9bccd;transform:scaleX(1.0191);-webkit-text-stroke:0.25px #b9bccd;">6</span>
<span class="t" style="left:602.30px;top:890.30px;font-size:13.47px;color:#b9bccd;transform:scaleX(0.9952);-webkit-text-stroke:0.25px #b9bccd;"> 28</span>
<span class="t" style="left:697.38px;top:890.30px;font-size:13.47px;color:#b9bccd;transform:scaleX(1.0191);-webkit-text-stroke:0.25px #b9bccd;">7</span>
<span class="t" style="left:718.62px;top:890.30px;font-size:13.47px;color:#b9bccd;transform:scaleX(0.9793);-webkit-text-stroke:0.25px #b9bccd;"> 7</span>
<span class="t" style="left:806.06px;top:890.30px;font-size:13.47px;color:#b9bccd;transform:scaleX(1.0191);-webkit-text-stroke:0.25px #b9bccd;">7</span>
<span class="t" style="left:827.30px;top:890.30px;font-size:13.47px;color:#b9bccd;transform:scaleX(0.9952);-webkit-text-stroke:0.25px #b9bccd;"> 16</span>
<span class="t" style="left:918.56px;top:890.30px;font-size:13.47px;color:#b9bccd;transform:scaleX(1.0191);-webkit-text-stroke:0.25px #b9bccd;">7</span>
<span class="t" style="left:939.80px;top:890.30px;font-size:13.47px;color:#b9bccd;transform:scaleX(0.9952);-webkit-text-stroke:0.25px #b9bccd;"> 25</span>
<span class="t" style="left:1034.88px;top:890.30px;font-size:13.47px;color:#b9bccd;transform:scaleX(1.0191);-webkit-text-stroke:0.25px #b9bccd;">8</span>
<span class="t" style="left:1056.12px;top:890.30px;font-size:13.47px;color:#b9bccd;transform:scaleX(0.9793);-webkit-text-stroke:0.25px #b9bccd;"> 3</span>
<span class="t" style="left:1143.56px;top:890.30px;font-size:13.47px;color:#b9bccd;transform:scaleX(1.0191);-webkit-text-stroke:0.25px #b9bccd;">8</span>
<span class="t" style="left:1164.80px;top:890.30px;font-size:13.47px;color:#b9bccd;transform:scaleX(0.9952);-webkit-text-stroke:0.25px #b9bccd;"> 12</span>
<span class="t" style="left:1256.06px;top:890.30px;font-size:13.47px;color:#b9bccd;transform:scaleX(1.0191);-webkit-text-stroke:0.25px #b9bccd;">8</span>
<span class="t" style="left:1277.30px;top:890.30px;font-size:13.47px;color:#b9bccd;transform:scaleX(0.9952);-webkit-text-stroke:0.25px #b9bccd;"> 21</span>
<span class="t" style="left:1368.56px;top:890.30px;font-size:13.47px;color:#b9bccd;transform:scaleX(1.0191);-webkit-text-stroke:0.25px #b9bccd;">8</span>
<span class="t" style="left:1389.80px;top:890.30px;font-size:13.47px;color:#b9bccd;transform:scaleX(0.9952);-webkit-text-stroke:0.25px #b9bccd;"> 30</span>
<span class="t" style="left:1484.88px;top:890.30px;font-size:13.47px;color:#b9bccd;transform:scaleX(1.0191);-webkit-text-stroke:0.25px #b9bccd;">9</span>
<span class="t" style="left:1506.12px;top:890.30px;font-size:13.47px;color:#b9bccd;transform:scaleX(0.9793);-webkit-text-stroke:0.25px #b9bccd;"> 8</span>
<span class="t" style="left:1593.56px;top:890.30px;font-size:13.47px;color:#b9bccd;transform:scaleX(1.0191);-webkit-text-stroke:0.25px #b9bccd;">9</span>
<span class="t" style="left:1614.80px;top:890.30px;font-size:13.47px;color:#b9bccd;transform:scaleX(0.9952);-webkit-text-stroke:0.25px #b9bccd;"> 17</span>
<span class="t" style="left:1706.06px;top:890.30px;font-size:13.47px;color:#b9bccd;transform:scaleX(1.0191);-webkit-text-stroke:0.25px #b9bccd;">9</span>
<span class="t" style="left:1727.30px;top:890.30px;font-size:13.47px;color:#b9bccd;transform:scaleX(0.9952);-webkit-text-stroke:0.25px #b9bccd;"> 26</span>
<span class="t" style="left:188.60px;top:890.30px;font-size:13.68px;color:#eceef5;transform:scaleX(0.9935);-webkit-text-stroke:0.25px #eceef5;">2020-05-31 08:00:00</span>
<span class="t" style="left:1797.60px;top:889.30px;font-size:14.40px;color:#b9bccd;transform:scaleX(0.8293);-webkit-text-stroke:0.25px #b9bccd;">%</span>
</div>
<svg id="g2" width="1858" height="915" viewBox="0 0 1858 915" >
<line x1="10.9" y1="142" x2="1754" y2="142" stroke="#e0e2ea" stroke-width="1" stroke-dasharray="5 7.5"/>
<polygon points="462,301 131,335 133.1,330.4 118,341.2 134.8,348.4 131.1,344.3 462,301.6" fill="#fb1d12"/>
<ellipse cx="81.15" cy="424.35" rx="60.3" ry="32.8" fill="none" stroke="#fb1d12" stroke-width="4.3"/>
<ellipse cx="1315.25" cy="361.05" rx="25" ry="19.2" fill="none" stroke="#fb1d12" stroke-width="4.3"/>
<ellipse cx="1364.9" cy="444.3" rx="24.9" ry="22.2" fill="none" stroke="#fb1d12" stroke-width="4.3"/>
</svg>
</body></html>
